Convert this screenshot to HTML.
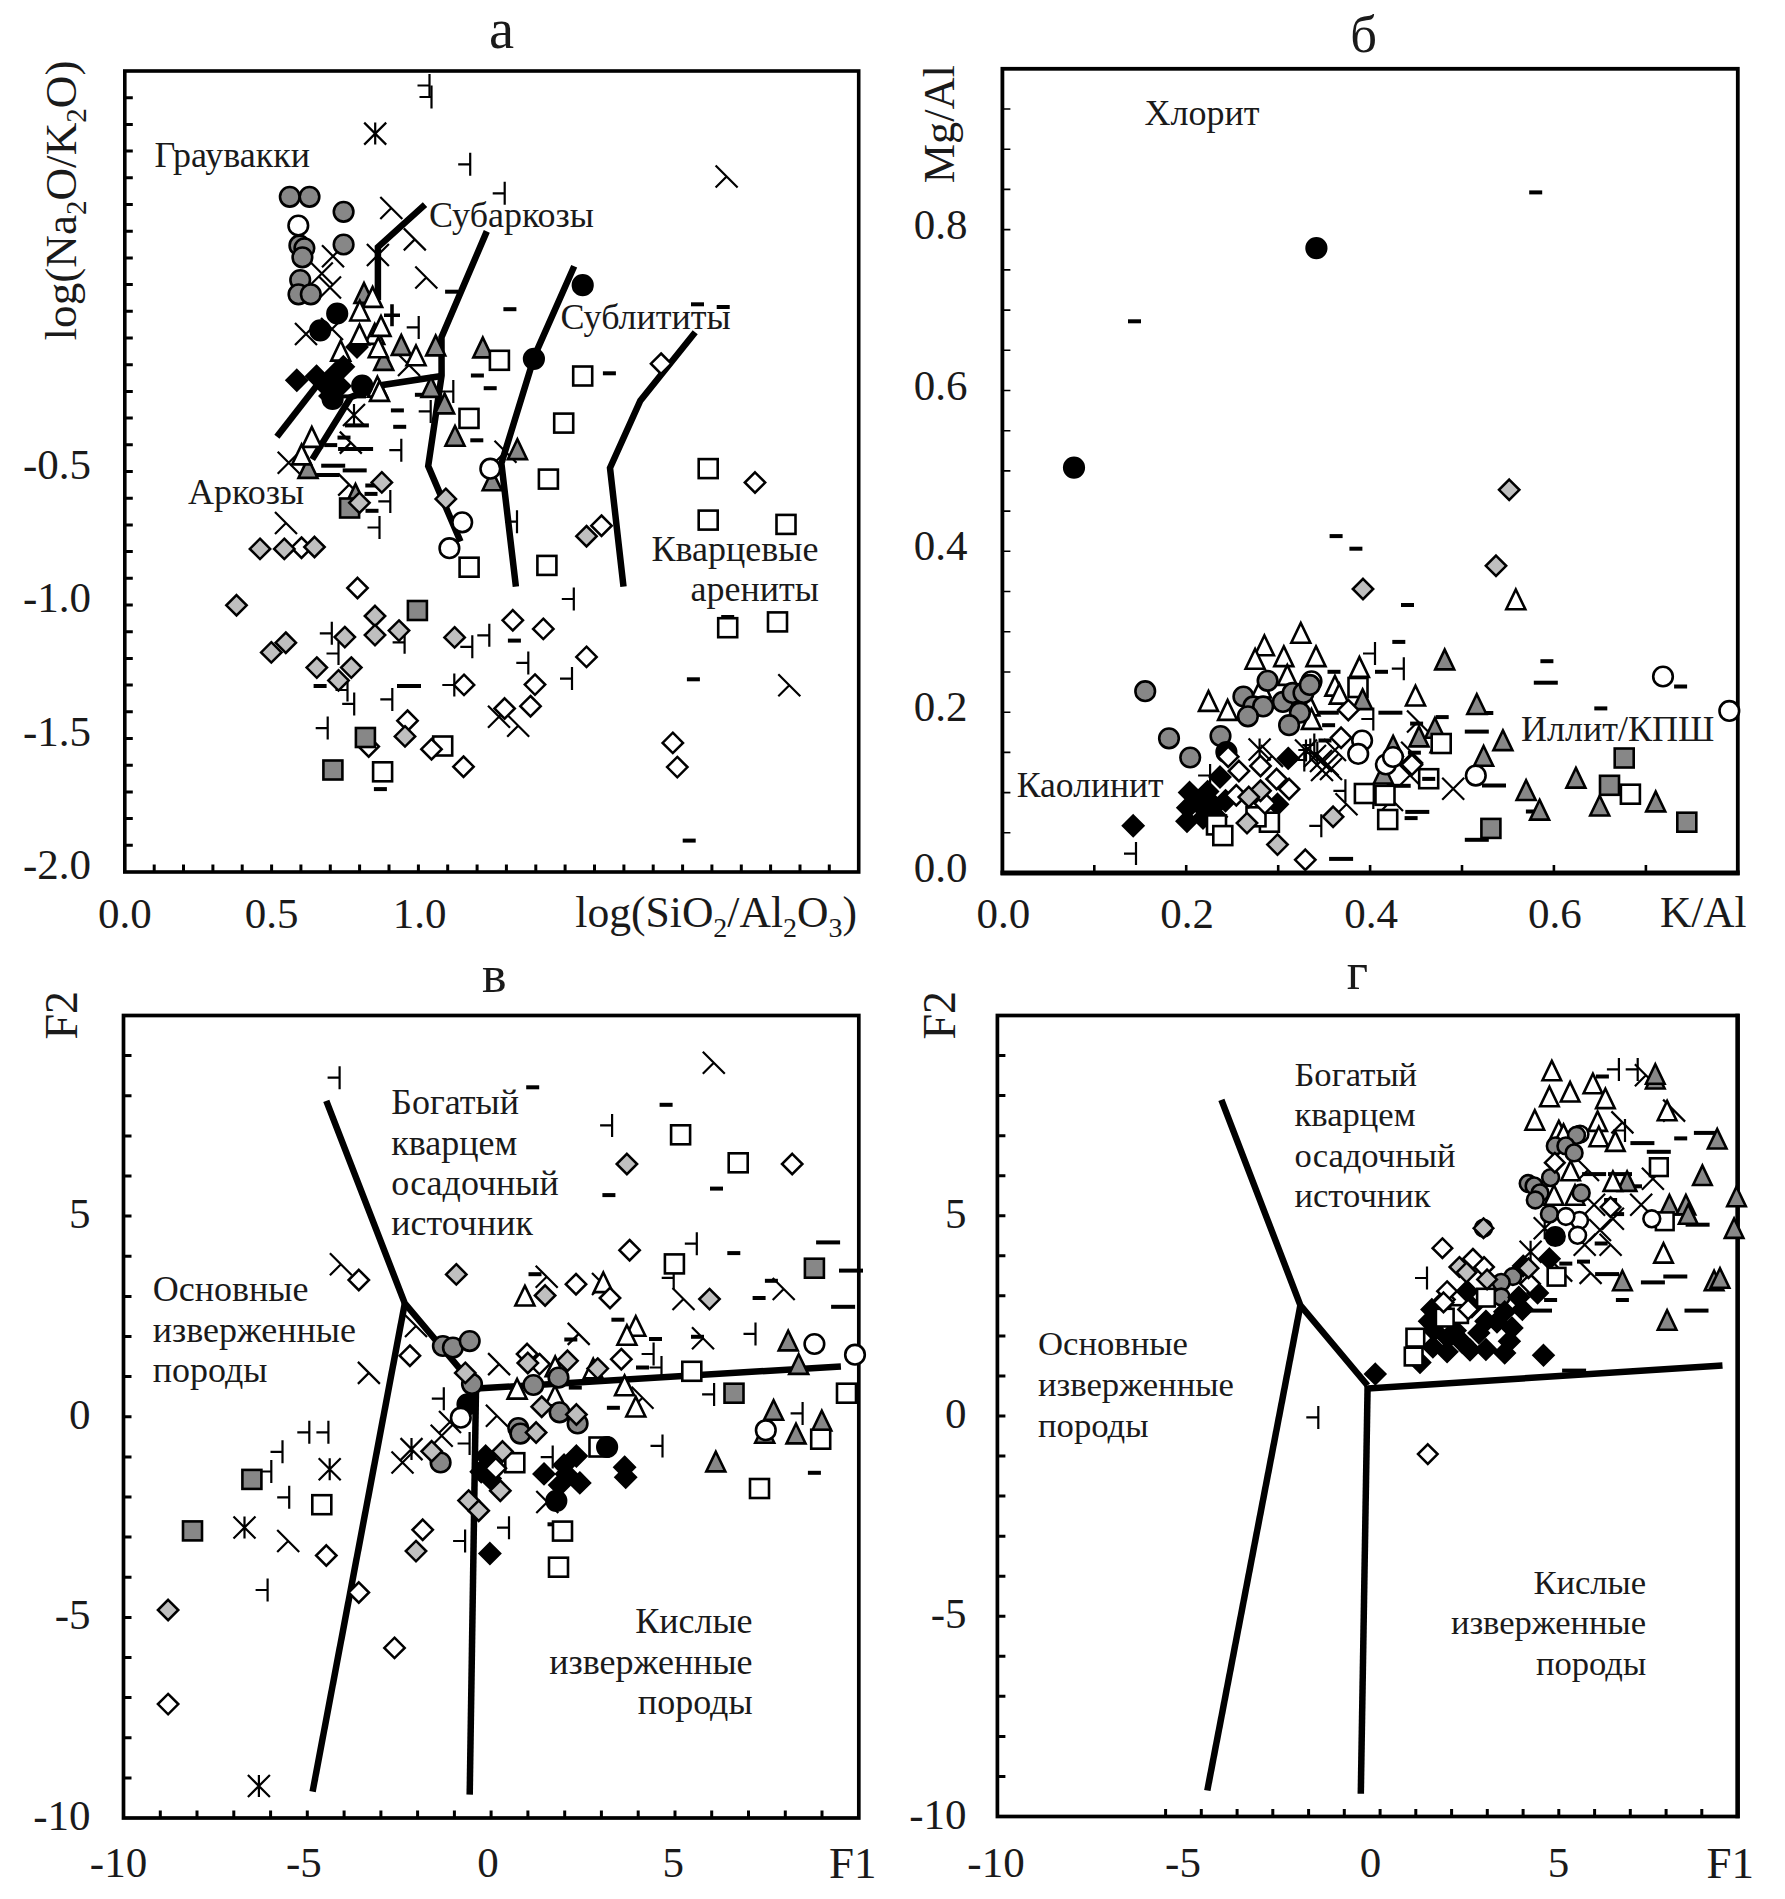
<!DOCTYPE html>
<html lang="ru"><head><meta charset="utf-8"><title>Диаграммы</title>
<style>html,body{margin:0;padding:0;background:#fff}svg{display:block}text{font-family:"Liberation Serif","Times New Roman",serif}</style>
</head><body>
<svg width="1785" height="1899" viewBox="0 0 1785 1899" font-family="'Liberation Serif', 'Times New Roman', serif" fill="#1a1a1a">
<rect width="1785" height="1899" fill="#fff"/>
<g id="pa">
<rect x="124.8" y="71" width="733.9" height="801" fill="none" stroke="#000" stroke-width="3.6"/>
<path d="M124.8 845.3h8M124.8 818.6h8M124.8 791.9h8M124.8 765.2h8M124.8 738.5h8M124.8 711.8h8M124.8 685.1h8M124.8 658.4h8M124.8 631.7h8M124.8 605h8M124.8 578.3h8M124.8 551.6h8M124.8 524.9h8M124.8 498.2h8M124.8 471.5h8M124.8 444.8h8M124.8 418.1h8M124.8 391.4h8M124.8 364.7h8M124.8 338h8M124.8 311.3h8M124.8 284.6h8M124.8 257.9h8M124.8 231.2h8M124.8 204.5h8M124.8 177.8h8M124.8 151.1h8M124.8 124.4h8M124.8 97.7h8M154.2 872v-7.6M183.5 872v-7.6M212.9 872v-7.6M242.2 872v-7.6M271.6 872v-7.6M300.9 872v-7.6M330.3 872v-7.6M359.6 872v-7.6M389 872v-7.6M418.4 872v-7.6M447.7 872v-7.6M477.1 872v-7.6M506.4 872v-7.6M535.8 872v-7.6M565.1 872v-7.6M594.5 872v-7.6M623.9 872v-7.6M653.2 872v-7.6M682.6 872v-7.6M711.9 872v-7.6M741.3 872v-7.6M770.6 872v-7.6M800 872v-7.6M829.3 872v-7.6" stroke="#000" stroke-width="3" fill="none"/>
<polyline points="425,204.6 377.9,247.2 377.9,300" fill="none" stroke="#000" stroke-width="6.5" stroke-linejoin="miter"/>
<polyline points="486.8,231.4 441.5,337.2 441.6,375.4 428.2,466.1 460.5,541.5" fill="none" stroke="#000" stroke-width="6.5" stroke-linejoin="miter"/>
<polyline points="441.6,376 379.4,385.5 350.8,397.2 312.2,459.4" fill="none" stroke="#000" stroke-width="6.5" stroke-linejoin="miter"/>
<polyline points="276.9,436.7 318,384" fill="none" stroke="#000" stroke-width="6.5" stroke-linejoin="miter"/>
<polyline points="574.2,266.2 534.5,356 501.4,463.4 515.9,586.7" fill="none" stroke="#000" stroke-width="6.5" stroke-linejoin="miter"/>
<polyline points="695.2,332.3 640.3,400.7 610,467.9 623.5,586.7" fill="none" stroke="#000" stroke-width="6.5" stroke-linejoin="miter"/>
<rect x="445.1" y="289.7" width="13" height="4" fill="#000"/>
<rect x="503.4" y="307.2" width="13" height="4" fill="#000"/>
<rect x="691" y="302.3" width="13" height="4" fill="#000"/>
<rect x="716.7" y="305" width="13" height="4" fill="#000"/>
<rect x="470.9" y="373.5" width="13" height="4" fill="#000"/>
<rect x="483.7" y="386.2" width="13" height="4" fill="#000"/>
<rect x="602.9" y="371.3" width="13" height="4" fill="#000"/>
<rect x="414.9" y="392.8" width="13" height="4" fill="#000"/>
<rect x="390.9" y="408.4" width="13" height="4" fill="#000"/>
<rect x="393.2" y="424.8" width="13" height="4" fill="#000"/>
<rect x="470.3" y="438.3" width="13" height="4" fill="#000"/>
<rect x="365.5" y="508.8" width="13" height="4" fill="#000"/>
<rect x="365.3" y="483.5" width="13" height="4" fill="#000"/>
<rect x="364.5" y="491.9" width="13" height="4" fill="#000"/>
<rect x="313.6" y="684" width="13" height="4" fill="#000"/>
<rect x="507.9" y="638.6" width="13" height="4" fill="#000"/>
<rect x="373.9" y="787.1" width="13" height="4" fill="#000"/>
<rect x="686.9" y="677.3" width="13" height="4" fill="#000"/>
<rect x="682.7" y="838.6" width="13" height="4" fill="#000"/>
<rect x="721.2" y="615" width="13" height="4" fill="#000"/>
<rect x="337.5" y="435.6" width="13" height="4" fill="#000"/>
<rect x="324.2" y="443.1" width="13" height="4" fill="#000"/>
<rect x="342" y="394.4" width="24" height="4" fill="#000"/>
<rect x="344.9" y="423.4" width="24" height="4" fill="#000"/>
<rect x="321.2" y="463.7" width="24" height="4" fill="#000"/>
<rect x="342.7" y="468.4" width="24" height="4" fill="#000"/>
<rect x="397" y="684" width="24" height="4" fill="#000"/>
<rect x="338.1" y="447" width="35" height="4" fill="#000"/>
<rect x="304.3" y="473" width="35" height="4" fill="#000"/>
<path d="M429.5 74V97M417.5 85.5H429.5" fill="none" stroke="#000" stroke-width="2.2"/>
<path d="M431.5 85.5V108.5M419.5 97H431.5" fill="none" stroke="#000" stroke-width="2.2"/>
<path d="M470.2 152.8V175.8M458.2 164.3H470.2" fill="none" stroke="#000" stroke-width="2.2"/>
<path d="M504.7 181.8V204.8M492.7 193.3H504.7" fill="none" stroke="#000" stroke-width="2.2"/>
<path d="M418.7 315.9V338.9M406.7 327.4H418.7" fill="none" stroke="#000" stroke-width="2.2"/>
<path d="M453.3 380V403M441.3 391.5H453.3" fill="none" stroke="#000" stroke-width="2.2"/>
<path d="M430.7 399.9V422.9M418.7 411.4H430.7" fill="none" stroke="#000" stroke-width="2.2"/>
<path d="M401.3 438.7V461.7M389.3 450.2H401.3" fill="none" stroke="#000" stroke-width="2.2"/>
<path d="M390.3 489.9V512.9M378.3 501.4H390.3" fill="none" stroke="#000" stroke-width="2.2"/>
<path d="M379.5 516V539M367.5 527.5H379.5" fill="none" stroke="#000" stroke-width="2.2"/>
<path d="M517 510.2V533.2M505 521.7H517" fill="none" stroke="#000" stroke-width="2.2"/>
<path d="M573.8 587.5V610.5M561.8 599H573.8" fill="none" stroke="#000" stroke-width="2.2"/>
<path d="M331.8 621.8V644.8M319.8 633.3H331.8" fill="none" stroke="#000" stroke-width="2.2"/>
<path d="M338.5 642V665M326.5 653.5H338.5" fill="none" stroke="#000" stroke-width="2.2"/>
<path d="M404.6 630.8V653.8M392.6 642.3H404.6" fill="none" stroke="#000" stroke-width="2.2"/>
<path d="M472.3 635.3V658.3M460.3 646.8H472.3" fill="none" stroke="#000" stroke-width="2.2"/>
<path d="M489.3 623.8V646.8M477.3 635.3H489.3" fill="none" stroke="#000" stroke-width="2.2"/>
<path d="M347.5 678.5V701.5M335.5 690H347.5" fill="none" stroke="#000" stroke-width="2.2"/>
<path d="M354.2 692.4V715.4M342.2 703.9H354.2" fill="none" stroke="#000" stroke-width="2.2"/>
<path d="M392.3 687.9V710.9M380.3 699.4H392.3" fill="none" stroke="#000" stroke-width="2.2"/>
<path d="M327.7 716.6V739.6M315.7 728.1H327.7" fill="none" stroke="#000" stroke-width="2.2"/>
<path d="M454.3 673.5V696.5M442.3 685H454.3" fill="none" stroke="#000" stroke-width="2.2"/>
<path d="M528.3 651.4V674.4M516.3 662.9H528.3" fill="none" stroke="#000" stroke-width="2.2"/>
<path d="M572 667.1V690.1M560 678.6H572" fill="none" stroke="#000" stroke-width="2.2"/>
<path d="M380.3 197L402.3 219M391.3 208L380.3 219" fill="none" stroke="#000" stroke-width="2.2"/>
<path d="M403.8 228.4L425.8 250.4M414.8 239.4L403.8 250.4" fill="none" stroke="#000" stroke-width="2.2"/>
<path d="M415.3 266.5L437.3 288.5M426.3 277.5L415.3 288.5" fill="none" stroke="#000" stroke-width="2.2"/>
<path d="M715.6 165.5L737.6 187.5M726.6 176.5L715.6 187.5" fill="none" stroke="#000" stroke-width="2.2"/>
<path d="M494.5 440.8L516.5 462.8M505.5 451.8L494.5 462.8" fill="none" stroke="#000" stroke-width="2.2"/>
<path d="M339.8 431.6L361.8 453.6M350.8 442.6L339.8 453.6" fill="none" stroke="#000" stroke-width="2.2"/>
<path d="M338.2 473.6L360.2 495.6M349.2 484.6L338.2 495.6" fill="none" stroke="#000" stroke-width="2.2"/>
<path d="M275 512L297 534M286 523L275 534" fill="none" stroke="#000" stroke-width="2.2"/>
<path d="M778.3 674.3L800.3 696.3M789.3 685.3L778.3 696.3" fill="none" stroke="#000" stroke-width="2.2"/>
<path d="M507.2 714.7L529.2 736.7M518.2 725.7L507.2 736.7" fill="none" stroke="#000" stroke-width="2.2"/>
<path d="M322 245.2L344 267.2M344 245.2L322 267.2" fill="none" stroke="#000" stroke-width="2.2"/>
<path d="M366.9 244L388.9 266M388.9 244L366.9 266" fill="none" stroke="#000" stroke-width="2.2"/>
<path d="M310.8 262.5L332.8 284.5M332.8 262.5L310.8 284.5" fill="none" stroke="#000" stroke-width="2.2"/>
<path d="M319 276.5L341 298.5M341 276.5L319 298.5" fill="none" stroke="#000" stroke-width="2.2"/>
<path d="M295 323L317 345M317 323L295 345" fill="none" stroke="#000" stroke-width="2.2"/>
<path d="M321 318L343 340M343 318L321 340" fill="none" stroke="#000" stroke-width="2.2"/>
<path d="M398 354L420 376M420 354L398 376" fill="none" stroke="#000" stroke-width="2.2"/>
<path d="M277.7 451.8L299.7 473.8M299.7 451.8L277.7 473.8" fill="none" stroke="#000" stroke-width="2.2"/>
<path d="M488 705.7L510 727.7M510 705.7L488 727.7" fill="none" stroke="#000" stroke-width="2.2"/>
<path d="M364.2 122.6L386.2 144.6M386.2 122.6L364.2 144.6M375.2 122.6V144.6" fill="none" stroke="#000" stroke-width="2.2"/>
<path d="M343 404L365 426M365 404L343 426M354 404V426" fill="none" stroke="#000" stroke-width="2.2"/>
<path d="M392 304.3V326.3M384 315.3H400" fill="none" stroke="#000" stroke-width="3.6"/>
<polygon points="364,283.1 373.5,302.9 354.5,302.9" fill="#878787" stroke="#000" stroke-width="2.6"/>
<polygon points="401.3,335.1 410.8,354.9 391.8,354.9" fill="#878787" stroke="#000" stroke-width="2.6"/>
<polygon points="435.7,335.6 445.2,355.4 426.2,355.4" fill="#878787" stroke="#000" stroke-width="2.6"/>
<polygon points="482.8,337.6 492.3,357.4 473.3,357.4" fill="#878787" stroke="#000" stroke-width="2.6"/>
<polygon points="383.7,350.1 393.2,369.9 374.2,369.9" fill="#878787" stroke="#000" stroke-width="2.6"/>
<polygon points="431,377.1 440.5,396.9 421.5,396.9" fill="#878787" stroke="#000" stroke-width="2.6"/>
<polygon points="444.6,393.6 454.1,413.4 435.1,413.4" fill="#878787" stroke="#000" stroke-width="2.6"/>
<polygon points="455,426 464.5,445.8 445.5,445.8" fill="#878787" stroke="#000" stroke-width="2.6"/>
<polygon points="517.4,439.3 526.9,459.1 507.9,459.1" fill="#878787" stroke="#000" stroke-width="2.6"/>
<polygon points="492.2,470.4 501.7,490.2 482.7,490.2" fill="#878787" stroke="#000" stroke-width="2.6"/>
<polygon points="308,458.1 317.5,477.9 298.5,477.9" fill="#878787" stroke="#000" stroke-width="2.6"/>
<polygon points="355.5,484.1 365,503.9 346,503.9" fill="#878787" stroke="#000" stroke-width="2.6"/>
<polygon points="357,336.8 367.2,347 357,357.2 346.8,347" fill="#000" stroke="#000" stroke-width="2.5"/>
<polygon points="372.6,287.1 382.1,306.9 363.1,306.9" fill="#fff" stroke="#000" stroke-width="2.6"/>
<polygon points="359.8,300.8 369.3,320.5 350.3,320.5" fill="#fff" stroke="#000" stroke-width="2.6"/>
<polygon points="374.7,324.1 384.2,343.9 365.2,343.9" fill="#fff" stroke="#000" stroke-width="2.6"/>
<polygon points="381,316.1 390.5,335.9 371.5,335.9" fill="#fff" stroke="#000" stroke-width="2.6"/>
<polygon points="359.5,324.6 369,344.4 350,344.4" fill="#fff" stroke="#000" stroke-width="2.6"/>
<polygon points="378.3,337.4 387.8,357.2 368.8,357.2" fill="#fff" stroke="#000" stroke-width="2.6"/>
<polygon points="340.7,340.8 350.2,360.6 331.2,360.6" fill="#fff" stroke="#000" stroke-width="2.6"/>
<polygon points="416,345.5 425.5,365.2 406.5,365.2" fill="#fff" stroke="#000" stroke-width="2.6"/>
<polygon points="377.4,376.8 386.9,396.6 367.9,396.6" fill="#fff" stroke="#000" stroke-width="2.6"/>
<polygon points="379.5,381.1 389,400.9 370,400.9" fill="#fff" stroke="#000" stroke-width="2.6"/>
<polygon points="311.8,427.1 321.3,446.9 302.3,446.9" fill="#fff" stroke="#000" stroke-width="2.6"/>
<polygon points="301.6,444.6 311.1,464.4 292.1,464.4" fill="#fff" stroke="#000" stroke-width="2.6"/>
<circle cx="289.8" cy="196.8" r="9.8" fill="#878787" stroke="#000" stroke-width="2.6"/>
<circle cx="309.5" cy="196.8" r="9.8" fill="#878787" stroke="#000" stroke-width="2.6"/>
<circle cx="343.6" cy="211.8" r="9.8" fill="#878787" stroke="#000" stroke-width="2.6"/>
<circle cx="343.6" cy="244.5" r="9.8" fill="#878787" stroke="#000" stroke-width="2.6"/>
<circle cx="299.4" cy="245.4" r="9.8" fill="#878787" stroke="#000" stroke-width="2.6"/>
<circle cx="304.4" cy="248.3" r="9.8" fill="#878787" stroke="#000" stroke-width="2.6"/>
<circle cx="302.4" cy="257.3" r="9.8" fill="#878787" stroke="#000" stroke-width="2.6"/>
<circle cx="300.2" cy="280" r="9.8" fill="#878787" stroke="#000" stroke-width="2.6"/>
<circle cx="298.5" cy="294.3" r="9.8" fill="#878787" stroke="#000" stroke-width="2.6"/>
<circle cx="310.8" cy="294.3" r="9.8" fill="#878787" stroke="#000" stroke-width="2.6"/>
<circle cx="337.2" cy="313.5" r="9.8" fill="#000" stroke="#000" stroke-width="2.6"/>
<circle cx="320.2" cy="330.3" r="9.8" fill="#000" stroke="#000" stroke-width="2.6"/>
<circle cx="582.7" cy="285.2" r="9.8" fill="#000" stroke="#000" stroke-width="2.6"/>
<circle cx="533.9" cy="358.8" r="9.8" fill="#000" stroke="#000" stroke-width="2.6"/>
<circle cx="332.6" cy="399" r="9.8" fill="#000" stroke="#000" stroke-width="2.6"/>
<circle cx="362.2" cy="385.6" r="9.8" fill="#000" stroke="#000" stroke-width="2.6"/>
<polygon points="296.8,370.1 307,380.3 296.8,390.5 286.6,380.3" fill="#000" stroke="#000" stroke-width="2.5"/>
<polygon points="316.5,366 326.7,376.2 316.5,386.4 306.3,376.2" fill="#000" stroke="#000" stroke-width="2.5"/>
<polygon points="335.3,363.3 345.5,373.5 335.3,383.7 325.1,373.5" fill="#000" stroke="#000" stroke-width="2.5"/>
<polygon points="343.4,356.6 353.6,366.8 343.4,377 333.2,366.8" fill="#000" stroke="#000" stroke-width="2.5"/>
<polygon points="325,374.8 335.2,385 325,395.2 314.8,385" fill="#000" stroke="#000" stroke-width="2.5"/>
<polygon points="340,375.8 350.2,386 340,396.2 329.8,386" fill="#000" stroke="#000" stroke-width="2.5"/>
<polygon points="330,385.8 340.2,396 330,406.2 319.8,396" fill="#000" stroke="#000" stroke-width="2.5"/>
<rect x="459.5" y="408.9" width="19" height="19" fill="#fff" stroke="#000" stroke-width="2.6"/>
<rect x="489.9" y="350.8" width="19" height="19" fill="#fff" stroke="#000" stroke-width="2.6"/>
<rect x="573.2" y="366.5" width="19" height="19" fill="#fff" stroke="#000" stroke-width="2.6"/>
<rect x="554.2" y="413.6" width="19" height="19" fill="#fff" stroke="#000" stroke-width="2.6"/>
<rect x="538.9" y="469.6" width="19" height="19" fill="#fff" stroke="#000" stroke-width="2.6"/>
<rect x="459.6" y="557.7" width="19" height="19" fill="#fff" stroke="#000" stroke-width="2.6"/>
<rect x="537.4" y="555.9" width="19" height="19" fill="#fff" stroke="#000" stroke-width="2.6"/>
<rect x="698.7" y="459.1" width="19" height="19" fill="#fff" stroke="#000" stroke-width="2.6"/>
<rect x="698.7" y="510.6" width="19" height="19" fill="#fff" stroke="#000" stroke-width="2.6"/>
<rect x="776.5" y="514.9" width="19" height="19" fill="#fff" stroke="#000" stroke-width="2.6"/>
<rect x="718.2" y="618.2" width="19" height="19" fill="#fff" stroke="#000" stroke-width="2.6"/>
<rect x="768" y="612.4" width="19" height="19" fill="#fff" stroke="#000" stroke-width="2.6"/>
<rect x="433.2" y="736.5" width="19" height="19" fill="#fff" stroke="#000" stroke-width="2.6"/>
<rect x="373.1" y="762.3" width="19" height="19" fill="#fff" stroke="#000" stroke-width="2.6"/>
<polygon points="661.1,353.5 671.3,363.7 661.1,373.9 650.9,363.7" fill="#fff" stroke="#000" stroke-width="2.5"/>
<polygon points="301.5,537.5 311.7,547.7 301.5,557.9 291.3,547.7" fill="#fff" stroke="#000" stroke-width="2.5"/>
<polygon points="357.5,577.8 367.7,588 357.5,598.2 347.3,588" fill="#fff" stroke="#000" stroke-width="2.5"/>
<polygon points="512.8,610.1 523,620.3 512.8,630.5 502.6,620.3" fill="#fff" stroke="#000" stroke-width="2.5"/>
<polygon points="543.3,618.7 553.5,628.9 543.3,639.1 533.1,628.9" fill="#fff" stroke="#000" stroke-width="2.5"/>
<polygon points="586.5,646.7 596.7,656.9 586.5,667.1 576.3,656.9" fill="#fff" stroke="#000" stroke-width="2.5"/>
<polygon points="535,674.4 545.2,684.6 535,694.8 524.8,684.6" fill="#fff" stroke="#000" stroke-width="2.5"/>
<polygon points="464,674.7 474.2,684.9 464,695.1 453.8,684.9" fill="#fff" stroke="#000" stroke-width="2.5"/>
<polygon points="530.5,696 540.7,706.2 530.5,716.4 520.3,706.2" fill="#fff" stroke="#000" stroke-width="2.5"/>
<polygon points="504.6,698.3 514.8,708.5 504.6,718.7 494.4,708.5" fill="#fff" stroke="#000" stroke-width="2.5"/>
<polygon points="601.5,515.5 611.7,525.7 601.5,535.9 591.3,525.7" fill="#fff" stroke="#000" stroke-width="2.5"/>
<polygon points="755,472.3 765.2,482.5 755,492.7 744.8,482.5" fill="#fff" stroke="#000" stroke-width="2.5"/>
<polygon points="407.5,710.5 417.7,720.7 407.5,730.9 397.3,720.7" fill="#fff" stroke="#000" stroke-width="2.5"/>
<polygon points="368.7,736.3 378.9,746.5 368.7,756.7 358.5,746.5" fill="#fff" stroke="#000" stroke-width="2.5"/>
<polygon points="431.5,739 441.7,749.2 431.5,759.4 421.3,749.2" fill="#fff" stroke="#000" stroke-width="2.5"/>
<polygon points="463.5,756.5 473.7,766.7 463.5,776.9 453.3,766.7" fill="#fff" stroke="#000" stroke-width="2.5"/>
<polygon points="672.8,732.7 683,742.9 672.8,753.1 662.6,742.9" fill="#fff" stroke="#000" stroke-width="2.5"/>
<polygon points="677.3,756.9 687.5,767.1 677.3,777.3 667.1,767.1" fill="#fff" stroke="#000" stroke-width="2.5"/>
<rect x="340.1" y="498.5" width="19" height="19" fill="#878787" stroke="#000" stroke-width="2.6"/>
<rect x="407.9" y="601" width="19" height="19" fill="#878787" stroke="#000" stroke-width="2.6"/>
<rect x="355.9" y="728" width="19" height="19" fill="#878787" stroke="#000" stroke-width="2.6"/>
<rect x="323.4" y="760.5" width="19" height="19" fill="#878787" stroke="#000" stroke-width="2.6"/>
<polygon points="445.8,488.7 456,498.9 445.8,509.1 435.6,498.9" fill="#bfbfbf" stroke="#000" stroke-width="2.5"/>
<polygon points="381.8,472.2 392,482.4 381.8,492.6 371.6,482.4" fill="#bfbfbf" stroke="#000" stroke-width="2.5"/>
<polygon points="359.4,492.6 369.6,502.8 359.4,513 349.2,502.8" fill="#bfbfbf" stroke="#000" stroke-width="2.5"/>
<polygon points="260,538.7 270.2,548.9 260,559.1 249.8,548.9" fill="#bfbfbf" stroke="#000" stroke-width="2.5"/>
<polygon points="284.3,538.7 294.5,548.9 284.3,559.1 274.1,548.9" fill="#bfbfbf" stroke="#000" stroke-width="2.5"/>
<polygon points="314.5,536.8 324.7,547 314.5,557.2 304.3,547" fill="#bfbfbf" stroke="#000" stroke-width="2.5"/>
<polygon points="236.5,595.1 246.7,605.3 236.5,615.5 226.3,605.3" fill="#bfbfbf" stroke="#000" stroke-width="2.5"/>
<polygon points="375,605.8 385.2,616 375,626.2 364.8,616" fill="#bfbfbf" stroke="#000" stroke-width="2.5"/>
<polygon points="344.8,626.9 355,637.1 344.8,647.3 334.6,637.1" fill="#bfbfbf" stroke="#000" stroke-width="2.5"/>
<polygon points="375,624.9 385.2,635.1 375,645.3 364.8,635.1" fill="#bfbfbf" stroke="#000" stroke-width="2.5"/>
<polygon points="399,620.4 409.2,630.6 399,640.8 388.8,630.6" fill="#bfbfbf" stroke="#000" stroke-width="2.5"/>
<polygon points="454.6,627.2 464.8,637.4 454.6,647.6 444.4,637.4" fill="#bfbfbf" stroke="#000" stroke-width="2.5"/>
<polygon points="285.8,632.5 296,642.7 285.8,652.9 275.6,642.7" fill="#bfbfbf" stroke="#000" stroke-width="2.5"/>
<polygon points="271.3,642.2 281.5,652.4 271.3,662.6 261.1,652.4" fill="#bfbfbf" stroke="#000" stroke-width="2.5"/>
<polygon points="316.8,657.4 327,667.6 316.8,677.8 306.6,667.6" fill="#bfbfbf" stroke="#000" stroke-width="2.5"/>
<polygon points="351.3,657.4 361.5,667.6 351.3,677.8 341.1,667.6" fill="#bfbfbf" stroke="#000" stroke-width="2.5"/>
<polygon points="338.5,670.2 348.7,680.4 338.5,690.6 328.3,680.4" fill="#bfbfbf" stroke="#000" stroke-width="2.5"/>
<polygon points="405,726.2 415.2,736.4 405,746.6 394.8,736.4" fill="#bfbfbf" stroke="#000" stroke-width="2.5"/>
<polygon points="586.5,526 596.7,536.2 586.5,546.4 576.3,536.2" fill="#bfbfbf" stroke="#000" stroke-width="2.5"/>
<circle cx="298.3" cy="225.5" r="9.8" fill="#fff" stroke="#000" stroke-width="2.6"/>
<circle cx="490.3" cy="468.7" r="9.8" fill="#fff" stroke="#000" stroke-width="2.6"/>
<circle cx="462.2" cy="522.3" r="9.8" fill="#fff" stroke="#000" stroke-width="2.6"/>
<circle cx="449.4" cy="548.2" r="9.8" fill="#fff" stroke="#000" stroke-width="2.6"/>
<text x="501.5" y="47.8" font-size="56.5" text-anchor="middle">а</text>
<text x="91" y="478.5" font-size="43" text-anchor="end">-0.5</text>
<text x="91" y="612" font-size="43" text-anchor="end">-1.0</text>
<text x="91" y="745.5" font-size="43" text-anchor="end">-1.5</text>
<text x="91" y="879" font-size="43" text-anchor="end">-2.0</text>
<text x="124.8" y="927.5" font-size="43" text-anchor="middle">0.0</text>
<text x="271.5" y="927.5" font-size="43" text-anchor="middle">0.5</text>
<text x="419.5" y="927.5" font-size="43" text-anchor="middle">1.0</text>
<text x="575.3" y="926.6" font-size="43.6" text-anchor="start">log(SiO<tspan font-size="28" dy="10">2</tspan><tspan dy="-10">/Al</tspan><tspan font-size="28" dy="10">2</tspan><tspan dy="-10">O</tspan><tspan font-size="28" dy="10">3</tspan><tspan dy="-10">)</tspan></text>
<text transform="translate(76.3 340.5) rotate(-90)" font-size="45.2" text-anchor="start">log(Na<tspan font-size="29" dy="10">2</tspan><tspan dy="-10">O/K</tspan><tspan font-size="29" dy="10">2</tspan><tspan dy="-10">O)</tspan></text>
<text x="154.5" y="166.5" font-size="36" text-anchor="start">Граувакки</text>
<text x="429" y="227" font-size="36" text-anchor="start">Субаркозы</text>
<text x="560.5" y="329" font-size="36" text-anchor="start">Сублититы</text>
<text x="188" y="504" font-size="36" text-anchor="start">Аркозы</text>
<text x="651.5" y="561" font-size="36" text-anchor="start">Кварцевые</text>
<text x="690.5" y="601.3" font-size="36" text-anchor="start">арениты</text>
</g>
<g id="pb">
<rect x="1002.4" y="68.8" width="735.4" height="804.2" fill="none" stroke="#000" stroke-width="3.8"/>
<path d="M1000.5 873H1739.7" stroke="#000" stroke-width="4.8" fill="none"/>
<path d="M1002.4 832.8h8M1002.4 792.6h8M1002.4 752.4h8M1002.4 712.2h8M1002.4 672h8M1002.4 631.7h8M1002.4 591.5h8M1002.4 551.3h8M1002.4 511.1h8M1002.4 470.9h8M1002.4 430.7h8M1002.4 390.5h8M1002.4 350.3h8M1002.4 310.1h8M1002.4 269.9h8M1002.4 229.6h8M1002.4 189.4h8M1002.4 149.2h8M1002.4 109h8" stroke="#000" stroke-width="1.6" fill="none"/>
<path d="M1094.3 873v-8M1186.2 873v-8M1278.2 873v-8M1370.1 873v-8M1462 873v-8M1553.9 873v-8M1645.9 873v-8" stroke="#000" stroke-width="2.6" fill="none"/>
<rect x="1529.2" y="190.4" width="13" height="4" fill="#000"/>
<rect x="1128" y="319.3" width="13" height="4" fill="#000"/>
<rect x="1329.6" y="534.1" width="13" height="4" fill="#000"/>
<rect x="1349.4" y="546.7" width="13" height="4" fill="#000"/>
<rect x="1401" y="603" width="13" height="4" fill="#000"/>
<rect x="1392.3" y="639.9" width="13" height="4" fill="#000"/>
<rect x="1375" y="669.8" width="13" height="4" fill="#000"/>
<rect x="1327.5" y="669.8" width="13" height="4" fill="#000"/>
<rect x="1322.1" y="723.2" width="13" height="4" fill="#000"/>
<rect x="1318.5" y="738.5" width="13" height="4" fill="#000"/>
<rect x="1540.4" y="659.2" width="13" height="4" fill="#000"/>
<rect x="1674.1" y="684.5" width="13" height="4" fill="#000"/>
<rect x="1594.3" y="706.4" width="13" height="4" fill="#000"/>
<rect x="1480.3" y="711" width="13" height="4" fill="#000"/>
<rect x="1435.7" y="715.1" width="13" height="4" fill="#000"/>
<rect x="1404.6" y="816.1" width="13" height="4" fill="#000"/>
<rect x="1407.9" y="750.7" width="13" height="4" fill="#000"/>
<rect x="1410.1" y="721.6" width="13" height="4" fill="#000"/>
<rect x="1525.9" y="809.5" width="13" height="4" fill="#000"/>
<rect x="1386.7" y="783.8" width="24" height="4" fill="#000"/>
<rect x="1314.8" y="710.7" width="24" height="4" fill="#000"/>
<rect x="1378.4" y="710.7" width="24" height="4" fill="#000"/>
<rect x="1533.8" y="680.7" width="24" height="4" fill="#000"/>
<rect x="1464.8" y="729.6" width="24" height="4" fill="#000"/>
<rect x="1482" y="783.5" width="24" height="4" fill="#000"/>
<rect x="1464.8" y="837.8" width="24" height="4" fill="#000"/>
<rect x="1405.3" y="809.9" width="24" height="4" fill="#000"/>
<rect x="1329.1" y="856.9" width="24" height="4" fill="#000"/>
<path d="M1375 642V665M1363 653.5H1375" fill="none" stroke="#000" stroke-width="2.2"/>
<path d="M1403.8 657.2V680.2M1391.8 668.7H1403.8" fill="none" stroke="#000" stroke-width="2.2"/>
<path d="M1373.3 707.5V730.5M1361.3 719H1373.3" fill="none" stroke="#000" stroke-width="2.2"/>
<path d="M1210.1 764V787M1198.1 775.5H1210.1" fill="none" stroke="#000" stroke-width="2.2"/>
<path d="M1136 842.1V865.1M1124 853.6H1136" fill="none" stroke="#000" stroke-width="2.2"/>
<path d="M1321.3 814.3V837.3M1309.3 825.8H1321.3" fill="none" stroke="#000" stroke-width="2.2"/>
<path d="M1345.4 779.3V802.3M1333.4 790.8H1345.4" fill="none" stroke="#000" stroke-width="2.2"/>
<path d="M1304.3 748.5V771.5M1292.3 760H1304.3" fill="none" stroke="#000" stroke-width="2.2"/>
<path d="M1314.3 733.5V756.5M1302.3 745H1314.3" fill="none" stroke="#000" stroke-width="2.2"/>
<path d="M1373.3 786.1V809.1M1361.3 797.6H1373.3" fill="none" stroke="#000" stroke-width="2.2"/>
<path d="M1310.3 738.5V761.5M1298.3 750H1310.3" fill="none" stroke="#000" stroke-width="2.2"/>
<path d="M1317.3 741.5V764.5M1305.3 753H1317.3" fill="none" stroke="#000" stroke-width="2.2"/>
<path d="M1335.5 793.3L1357.5 815.3M1346.5 804.3L1335.5 815.3" fill="none" stroke="#000" stroke-width="2.2"/>
<path d="M1407 710.5L1429 732.5M1418 721.5L1407 732.5" fill="none" stroke="#000" stroke-width="2.2"/>
<path d="M1261 745L1283 767M1272 756L1261 767" fill="none" stroke="#000" stroke-width="2.2"/>
<path d="M1311 759L1333 781M1322 770L1311 781" fill="none" stroke="#000" stroke-width="2.2"/>
<path d="M1401.1 741.7L1423.1 763.7M1412.1 752.7L1401.1 763.7" fill="none" stroke="#000" stroke-width="2.2"/>
<path d="M1399 764.2L1421 786.2M1410 775.2L1399 786.2" fill="none" stroke="#000" stroke-width="2.2"/>
<path d="M1381 789L1403 811M1392 800L1381 811" fill="none" stroke="#000" stroke-width="2.2"/>
<path d="M1304 745L1326 767M1326 745L1304 767" fill="none" stroke="#000" stroke-width="2.2"/>
<path d="M1316.7 753.8L1338.7 775.8M1338.7 753.8L1316.7 775.8" fill="none" stroke="#000" stroke-width="2.2"/>
<path d="M1442.2 777.8L1464.2 799.8M1464.2 777.8L1442.2 799.8" fill="none" stroke="#000" stroke-width="2.2"/>
<path d="M1324 739L1346 761M1346 739L1324 761" fill="none" stroke="#000" stroke-width="2.2"/>
<path d="M1310 750L1332 772M1332 750L1310 772" fill="none" stroke="#000" stroke-width="2.2"/>
<path d="M1320 758L1342 780M1342 758L1320 780" fill="none" stroke="#000" stroke-width="2.2"/>
<path d="M1248.6 738.5L1270.6 760.5M1270.6 738.5L1248.6 760.5M1259.6 738.5V760.5" fill="none" stroke="#000" stroke-width="2.2"/>
<path d="M1295 739.5L1317 761.5M1317 739.5L1295 761.5M1306 739.5V761.5" fill="none" stroke="#000" stroke-width="2.2"/>
<rect x="1348.5" y="678" width="19" height="19" fill="#fff" stroke="#000" stroke-width="2.6"/>
<polygon points="1362.6,689.4 1372.1,709.1 1353.1,709.1" fill="#878787" stroke="#000" stroke-width="2.6"/>
<polygon points="1393.1,735.9 1402.6,755.6 1383.6,755.6" fill="#878787" stroke="#000" stroke-width="2.6"/>
<polygon points="1383.3,763.8 1392.8,783.5 1373.8,783.5" fill="#878787" stroke="#000" stroke-width="2.6"/>
<polygon points="1419,726.6 1428.5,746.4 1409.5,746.4" fill="#878787" stroke="#000" stroke-width="2.6"/>
<polygon points="1444.7,649.6 1454.2,669.4 1435.2,669.4" fill="#878787" stroke="#000" stroke-width="2.6"/>
<polygon points="1476.8,694.2 1486.3,714 1467.3,714" fill="#878787" stroke="#000" stroke-width="2.6"/>
<polygon points="1502.9,730.4 1512.4,750.1 1493.4,750.1" fill="#878787" stroke="#000" stroke-width="2.6"/>
<polygon points="1483.6,746 1493.1,765.8 1474.1,765.8" fill="#878787" stroke="#000" stroke-width="2.6"/>
<polygon points="1440.1,732.5 1449.6,752.2 1430.6,752.2" fill="#878787" stroke="#000" stroke-width="2.6"/>
<polygon points="1434.9,718 1444.4,737.8 1425.4,737.8" fill="#878787" stroke="#000" stroke-width="2.6"/>
<polygon points="1526.1,780.2 1535.6,800 1516.6,800" fill="#878787" stroke="#000" stroke-width="2.6"/>
<polygon points="1539.6,799.9 1549.1,819.6 1530.1,819.6" fill="#878787" stroke="#000" stroke-width="2.6"/>
<polygon points="1575.9,767.9 1585.4,787.6 1566.4,787.6" fill="#878787" stroke="#000" stroke-width="2.6"/>
<polygon points="1599.7,795.8 1609.2,815.5 1590.2,815.5" fill="#878787" stroke="#000" stroke-width="2.6"/>
<polygon points="1655.7,791.6 1665.2,811.4 1646.2,811.4" fill="#878787" stroke="#000" stroke-width="2.6"/>
<polygon points="1300.8,623 1310.3,642.8 1291.3,642.8" fill="#fff" stroke="#000" stroke-width="2.6"/>
<polygon points="1264.4,635.5 1273.9,655.2 1254.9,655.2" fill="#fff" stroke="#000" stroke-width="2.6"/>
<polygon points="1255.1,649 1264.6,668.8 1245.6,668.8" fill="#fff" stroke="#000" stroke-width="2.6"/>
<polygon points="1283.8,646.4 1293.3,666.1 1274.3,666.1" fill="#fff" stroke="#000" stroke-width="2.6"/>
<polygon points="1316,646.4 1325.5,666.1 1306.5,666.1" fill="#fff" stroke="#000" stroke-width="2.6"/>
<polygon points="1287.3,665.1 1296.8,684.9 1277.8,684.9" fill="#fff" stroke="#000" stroke-width="2.6"/>
<polygon points="1359.4,657.1 1368.9,676.9 1349.9,676.9" fill="#fff" stroke="#000" stroke-width="2.6"/>
<polygon points="1334.9,675.9 1344.4,695.6 1325.4,695.6" fill="#fff" stroke="#000" stroke-width="2.6"/>
<polygon points="1339.3,683.9 1348.8,703.6 1329.8,703.6" fill="#fff" stroke="#000" stroke-width="2.6"/>
<polygon points="1208.5,691.1 1218,710.9 1199,710.9" fill="#fff" stroke="#000" stroke-width="2.6"/>
<polygon points="1227.6,700.1 1237.1,719.9 1218.1,719.9" fill="#fff" stroke="#000" stroke-width="2.6"/>
<polygon points="1415.5,685.8 1425,705.5 1406,705.5" fill="#fff" stroke="#000" stroke-width="2.6"/>
<polygon points="1261.4,677.8 1270.9,697.5 1251.9,697.5" fill="#fff" stroke="#000" stroke-width="2.6"/>
<polygon points="1309.8,695.6 1319.3,715.4 1300.3,715.4" fill="#fff" stroke="#000" stroke-width="2.6"/>
<polygon points="1311.5,709.1 1321,728.9 1302,728.9" fill="#fff" stroke="#000" stroke-width="2.6"/>
<polygon points="1515.8,589.5 1525.3,609.2 1506.3,609.2" fill="#fff" stroke="#000" stroke-width="2.6"/>
<circle cx="1311.5" cy="681.3" r="9.8" fill="#fff" stroke="#000" stroke-width="2.6"/>
<circle cx="1145.2" cy="691.2" r="9.8" fill="#878787" stroke="#000" stroke-width="2.6"/>
<circle cx="1169" cy="738.3" r="9.8" fill="#878787" stroke="#000" stroke-width="2.6"/>
<circle cx="1190.2" cy="757.5" r="9.8" fill="#878787" stroke="#000" stroke-width="2.6"/>
<circle cx="1220.5" cy="736" r="9.8" fill="#878787" stroke="#000" stroke-width="2.6"/>
<circle cx="1267.6" cy="680.8" r="9.8" fill="#878787" stroke="#000" stroke-width="2.6"/>
<circle cx="1243.4" cy="696.5" r="9.8" fill="#878787" stroke="#000" stroke-width="2.6"/>
<circle cx="1253.3" cy="706.4" r="9.8" fill="#878787" stroke="#000" stroke-width="2.6"/>
<circle cx="1263.1" cy="706.4" r="9.8" fill="#878787" stroke="#000" stroke-width="2.6"/>
<circle cx="1247.9" cy="716.3" r="9.8" fill="#878787" stroke="#000" stroke-width="2.6"/>
<circle cx="1282.9" cy="701.9" r="9.8" fill="#878787" stroke="#000" stroke-width="2.6"/>
<circle cx="1292.7" cy="692.9" r="9.8" fill="#878787" stroke="#000" stroke-width="2.6"/>
<circle cx="1303.5" cy="692.9" r="9.8" fill="#878787" stroke="#000" stroke-width="2.6"/>
<circle cx="1309.8" cy="684.9" r="9.8" fill="#878787" stroke="#000" stroke-width="2.6"/>
<circle cx="1299.9" cy="712.7" r="9.8" fill="#878787" stroke="#000" stroke-width="2.6"/>
<circle cx="1289.1" cy="725.2" r="9.8" fill="#878787" stroke="#000" stroke-width="2.6"/>
<circle cx="1316.4" cy="248.2" r="9.8" fill="#000" stroke="#000" stroke-width="2.6"/>
<circle cx="1074" cy="467.6" r="9.8" fill="#000" stroke="#000" stroke-width="2.6"/>
<circle cx="1226.4" cy="752.1" r="9.8" fill="#000" stroke="#000" stroke-width="2.6"/>
<polygon points="1288.2,748.2 1298.4,758.4 1288.2,768.6 1278,758.4" fill="#000" stroke="#000" stroke-width="2.5"/>
<polygon points="1220,766.8 1230.2,777 1220,787.2 1209.8,777" fill="#000" stroke="#000" stroke-width="2.5"/>
<polygon points="1189.6,782.3 1199.8,792.5 1189.6,802.7 1179.4,792.5" fill="#000" stroke="#000" stroke-width="2.5"/>
<polygon points="1207.6,781.4 1217.8,791.6 1207.6,801.8 1197.4,791.6" fill="#000" stroke="#000" stroke-width="2.5"/>
<polygon points="1187.8,797.6 1198,807.8 1187.8,818 1177.6,807.8" fill="#000" stroke="#000" stroke-width="2.5"/>
<polygon points="1187,811.1 1197.2,821.3 1187,831.5 1176.8,821.3" fill="#000" stroke="#000" stroke-width="2.5"/>
<polygon points="1214.7,795.8 1224.9,806 1214.7,816.2 1204.5,806" fill="#000" stroke="#000" stroke-width="2.5"/>
<polygon points="1225.5,790.5 1235.7,800.7 1225.5,810.9 1215.3,800.7" fill="#000" stroke="#000" stroke-width="2.5"/>
<polygon points="1216.5,806.6 1226.7,816.8 1216.5,827 1206.3,816.8" fill="#000" stroke="#000" stroke-width="2.5"/>
<polygon points="1277.5,794.1 1287.7,804.3 1277.5,814.5 1267.3,804.3" fill="#000" stroke="#000" stroke-width="2.5"/>
<polygon points="1133.2,815.6 1143.4,825.8 1133.2,836 1123,825.8" fill="#000" stroke="#000" stroke-width="2.5"/>
<polygon points="1200,794.8 1210.2,805 1200,815.2 1189.8,805" fill="#000" stroke="#000" stroke-width="2.5"/>
<polygon points="1207,795.8 1217.2,806 1207,816.2 1196.8,806" fill="#000" stroke="#000" stroke-width="2.5"/>
<polygon points="1203,807.8 1213.2,818 1203,828.2 1192.8,818" fill="#000" stroke="#000" stroke-width="2.5"/>
<rect x="1207" y="815.4" width="19" height="19" fill="#fff" stroke="#000" stroke-width="2.6"/>
<rect x="1213.3" y="826.1" width="19" height="19" fill="#fff" stroke="#000" stroke-width="2.6"/>
<rect x="1259.9" y="812.7" width="19" height="19" fill="#fff" stroke="#000" stroke-width="2.6"/>
<rect x="1246.5" y="807.3" width="19" height="19" fill="#fff" stroke="#000" stroke-width="2.6"/>
<rect x="1354.9" y="784" width="19" height="19" fill="#fff" stroke="#000" stroke-width="2.6"/>
<rect x="1375.5" y="785.8" width="19" height="19" fill="#fff" stroke="#000" stroke-width="2.6"/>
<rect x="1378.2" y="810" width="19" height="19" fill="#fff" stroke="#000" stroke-width="2.6"/>
<rect x="1431.7" y="734" width="19" height="19" fill="#fff" stroke="#000" stroke-width="2.6"/>
<rect x="1419.2" y="769.2" width="19" height="19" fill="#fff" stroke="#000" stroke-width="2.6"/>
<rect x="1620.9" y="784.7" width="19" height="19" fill="#fff" stroke="#000" stroke-width="2.6"/>
<polygon points="1348.3,699.8 1358.5,710 1348.3,720.2 1338.1,710" fill="#fff" stroke="#000" stroke-width="2.5"/>
<polygon points="1341.1,727.6 1351.3,737.8 1341.1,748 1330.9,737.8" fill="#fff" stroke="#000" stroke-width="2.5"/>
<polygon points="1228.2,746.5 1238.4,756.7 1228.2,766.9 1218,756.7" fill="#fff" stroke="#000" stroke-width="2.5"/>
<polygon points="1238.9,760.8 1249.1,771 1238.9,781.2 1228.7,771" fill="#fff" stroke="#000" stroke-width="2.5"/>
<polygon points="1260.5,755.8 1270.7,766 1260.5,776.2 1250.3,766" fill="#fff" stroke="#000" stroke-width="2.5"/>
<polygon points="1276.6,768.8 1286.8,779 1276.6,789.2 1266.4,779" fill="#fff" stroke="#000" stroke-width="2.5"/>
<polygon points="1289.1,778.8 1299.3,789 1289.1,799.2 1278.9,789" fill="#fff" stroke="#000" stroke-width="2.5"/>
<polygon points="1411.9,754.5 1422.1,764.7 1411.9,774.9 1401.7,764.7" fill="#fff" stroke="#000" stroke-width="2.5"/>
<polygon points="1236.3,785.1 1246.5,795.3 1236.3,805.5 1226.1,795.3" fill="#fff" stroke="#000" stroke-width="2.5"/>
<polygon points="1264.9,793.2 1275.1,803.4 1264.9,813.6 1254.7,803.4" fill="#fff" stroke="#000" stroke-width="2.5"/>
<polygon points="1305.3,849.6 1315.5,859.8 1305.3,870 1295.1,859.8" fill="#fff" stroke="#000" stroke-width="2.5"/>
<rect x="1614.7" y="748.5" width="19" height="19" fill="#878787" stroke="#000" stroke-width="2.6"/>
<rect x="1600" y="775.8" width="19" height="19" fill="#878787" stroke="#000" stroke-width="2.6"/>
<rect x="1677.3" y="812.7" width="19" height="19" fill="#878787" stroke="#000" stroke-width="2.6"/>
<rect x="1481.4" y="818.9" width="19" height="19" fill="#878787" stroke="#000" stroke-width="2.6"/>
<polygon points="1509.2,479.6 1519.4,489.8 1509.2,500 1499,489.8" fill="#bfbfbf" stroke="#000" stroke-width="2.5"/>
<polygon points="1496,555.6 1506.2,565.8 1496,576 1485.8,565.8" fill="#bfbfbf" stroke="#000" stroke-width="2.5"/>
<polygon points="1363,578.8 1373.2,589 1363,599.2 1352.8,589" fill="#bfbfbf" stroke="#000" stroke-width="2.5"/>
<polygon points="1260.5,780.5 1270.7,790.7 1260.5,800.9 1250.3,790.7" fill="#bfbfbf" stroke="#000" stroke-width="2.5"/>
<polygon points="1248.8,786.8 1259,797 1248.8,807.2 1238.6,797" fill="#bfbfbf" stroke="#000" stroke-width="2.5"/>
<polygon points="1247,812.9 1257.2,823.1 1247,833.3 1236.8,823.1" fill="#bfbfbf" stroke="#000" stroke-width="2.5"/>
<polygon points="1333.1,806.6 1343.3,816.8 1333.1,827 1322.9,816.8" fill="#bfbfbf" stroke="#000" stroke-width="2.5"/>
<polygon points="1277.5,834.4 1287.7,844.6 1277.5,854.8 1267.3,844.6" fill="#bfbfbf" stroke="#000" stroke-width="2.5"/>
<circle cx="1362.1" cy="740.5" r="9.8" fill="#fff" stroke="#000" stroke-width="2.6"/>
<circle cx="1358.2" cy="753.9" r="9.8" fill="#fff" stroke="#000" stroke-width="2.6"/>
<circle cx="1385.9" cy="764.5" r="9.8" fill="#fff" stroke="#000" stroke-width="2.6"/>
<circle cx="1393" cy="757" r="9.8" fill="#fff" stroke="#000" stroke-width="2.6"/>
<circle cx="1663" cy="676.5" r="9.8" fill="#fff" stroke="#000" stroke-width="2.6"/>
<circle cx="1729.3" cy="710.9" r="9.8" fill="#fff" stroke="#000" stroke-width="2.6"/>
<circle cx="1475.8" cy="775.6" r="9.8" fill="#fff" stroke="#000" stroke-width="2.6"/>
<rect x="1422.2" y="776.9" width="13" height="4" fill="#000"/>
<text x="1363.5" y="52" font-size="52.5" text-anchor="middle">б</text>
<text x="967.5" y="238.6" font-size="43" text-anchor="end">0.8</text>
<text x="967.5" y="399.5" font-size="43" text-anchor="end">0.6</text>
<text x="967.5" y="560.3" font-size="43" text-anchor="end">0.4</text>
<text x="967.5" y="721.2" font-size="43" text-anchor="end">0.2</text>
<text x="967.5" y="882" font-size="43" text-anchor="end">0.0</text>
<text x="1003.4" y="927.5" font-size="43" text-anchor="middle">0.0</text>
<text x="1187.2" y="927.5" font-size="43" text-anchor="middle">0.2</text>
<text x="1371.1" y="927.5" font-size="43" text-anchor="middle">0.4</text>
<text x="1554.9" y="927.5" font-size="43" text-anchor="middle">0.6</text>
<text x="1660" y="926.7" font-size="43.3" text-anchor="start">K/Al</text>
<text transform="translate(953.7 183.3) rotate(-90)" font-size="44.3" text-anchor="start">Mg/Al</text>
<text x="1144.5" y="125.3" font-size="36" text-anchor="start">Хлорит</text>
<text x="1016.8" y="796.5" font-size="35.6" text-anchor="start">Каолинит</text>
<text x="1521" y="741.4" font-size="36" text-anchor="start">Иллит/КПШ</text>
</g>
<g id="pv">
<rect x="123.5" y="1015.5" width="735.3" height="802.5" fill="none" stroke="#000" stroke-width="3.7"/>
<path d="M123.5 1777.9h8M123.5 1737.8h8M123.5 1697.6h8M123.5 1657.5h8M123.5 1617.4h8M123.5 1577.2h8M123.5 1537.1h8M123.5 1497h8M123.5 1456.9h8M123.5 1416.8h8M123.5 1376.6h8M123.5 1336.5h8M123.5 1296.4h8M123.5 1256.2h8M123.5 1216.1h8M123.5 1176h8M123.5 1135.9h8M123.5 1095.8h8M123.5 1055.6h8M160.3 1818v-7.6M197 1818v-7.6M233.8 1818v-7.6M270.6 1818v-7.6M307.3 1818v-7.6M344.1 1818v-7.6M380.9 1818v-7.6M417.6 1818v-7.6M454.4 1818v-7.6M491.1 1818v-7.6M527.9 1818v-7.6M564.7 1818v-7.6M601.4 1818v-7.6M638.2 1818v-7.6M675 1818v-7.6M711.7 1818v-7.6M748.5 1818v-7.6M785.3 1818v-7.6M822 1818v-7.6" stroke="#000" stroke-width="3" fill="none"/>
<polyline points="326.3,1100.8 404.8,1303.4 476.5,1388.6" fill="none" stroke="#000" stroke-width="6.5" stroke-linejoin="miter"/>
<polyline points="404.8,1303.4 312.6,1791.6" fill="none" stroke="#000" stroke-width="6.5" stroke-linejoin="miter"/>
<polyline points="476.5,1388.6 840.9,1366.4" fill="none" stroke="#000" stroke-width="6.5" stroke-linejoin="miter"/>
<polyline points="476,1388.6 469.7,1794.6" fill="none" stroke="#000" stroke-width="6.5" stroke-linejoin="miter"/>
<rect x="526.2" y="1085.3" width="13" height="4" fill="#000"/>
<rect x="659.6" y="1102.8" width="13" height="4" fill="#000"/>
<rect x="602.4" y="1193.1" width="13" height="4" fill="#000"/>
<rect x="710" y="1186.6" width="13" height="4" fill="#000"/>
<rect x="727.3" y="1251.1" width="13" height="4" fill="#000"/>
<rect x="528.5" y="1272.2" width="13" height="4" fill="#000"/>
<rect x="752.6" y="1296" width="13" height="4" fill="#000"/>
<rect x="764.9" y="1278.8" width="13" height="4" fill="#000"/>
<rect x="611.4" y="1317.7" width="13" height="4" fill="#000"/>
<rect x="564.3" y="1337.5" width="13" height="4" fill="#000"/>
<rect x="649" y="1337" width="13" height="4" fill="#000"/>
<rect x="691" y="1334.8" width="13" height="4" fill="#000"/>
<rect x="636" y="1365.5" width="13" height="4" fill="#000"/>
<rect x="568.8" y="1385.6" width="13" height="4" fill="#000"/>
<rect x="606.9" y="1405.8" width="13" height="4" fill="#000"/>
<rect x="807.9" y="1470.8" width="13" height="4" fill="#000"/>
<rect x="547.5" y="1522.3" width="13" height="4" fill="#000"/>
<rect x="816.1" y="1240.4" width="24" height="4" fill="#000"/>
<rect x="839" y="1268.6" width="24" height="4" fill="#000"/>
<rect x="831.1" y="1304.8" width="24" height="4" fill="#000"/>
<path d="M339.6 1066.2V1089.2M327.6 1077.7H339.6" fill="none" stroke="#000" stroke-width="2.2"/>
<path d="M443.8 1387.2V1410.2M431.8 1398.7H443.8" fill="none" stroke="#000" stroke-width="2.2"/>
<path d="M469.6 1432V1455M457.6 1443.5H469.6" fill="none" stroke="#000" stroke-width="2.2"/>
<path d="M465.1 1529.5V1552.5M453.1 1541H465.1" fill="none" stroke="#000" stroke-width="2.2"/>
<path d="M309.3 1420.8V1443.8M297.3 1432.3H309.3" fill="none" stroke="#000" stroke-width="2.2"/>
<path d="M328.4 1420.8V1443.8M316.4 1432.3H328.4" fill="none" stroke="#000" stroke-width="2.2"/>
<path d="M282.5 1440.3V1463.3M270.5 1451.8H282.5" fill="none" stroke="#000" stroke-width="2.2"/>
<path d="M271.3 1460V1483M259.3 1471.5H271.3" fill="none" stroke="#000" stroke-width="2.2"/>
<path d="M289.2 1485.8V1508.8M277.2 1497.3H289.2" fill="none" stroke="#000" stroke-width="2.2"/>
<path d="M267.6 1578.5V1601.5M255.6 1590H267.6" fill="none" stroke="#000" stroke-width="2.2"/>
<path d="M612.1 1113.9V1136.9M600.1 1125.4H612.1" fill="none" stroke="#000" stroke-width="2.2"/>
<path d="M696.8 1232.2V1255.2M684.8 1243.7H696.8" fill="none" stroke="#000" stroke-width="2.2"/>
<path d="M673.7 1266.3V1289.3M661.7 1277.8H673.7" fill="none" stroke="#000" stroke-width="2.2"/>
<path d="M755.5 1322.4V1345.4M743.5 1333.9H755.5" fill="none" stroke="#000" stroke-width="2.2"/>
<path d="M653.6 1342.5V1365.5M641.6 1354H653.6" fill="none" stroke="#000" stroke-width="2.2"/>
<path d="M661.5 1356V1379M649.5 1367.5H661.5" fill="none" stroke="#000" stroke-width="2.2"/>
<path d="M714.1 1382.9V1405.9M702.1 1394.4H714.1" fill="none" stroke="#000" stroke-width="2.2"/>
<path d="M802.6 1401.9V1424.9M790.6 1413.4H802.6" fill="none" stroke="#000" stroke-width="2.2"/>
<path d="M662.5 1434.4V1457.4M650.5 1445.9H662.5" fill="none" stroke="#000" stroke-width="2.2"/>
<path d="M552.7 1445.6V1468.6M540.7 1457.1H552.7" fill="none" stroke="#000" stroke-width="2.2"/>
<path d="M509 1516.2V1539.2M497 1527.7H509" fill="none" stroke="#000" stroke-width="2.2"/>
<path d="M329.9 1253.3L351.9 1275.3M340.9 1264.3L329.9 1275.3" fill="none" stroke="#000" stroke-width="2.2"/>
<path d="M405 1315L427 1337M416 1326L405 1337" fill="none" stroke="#000" stroke-width="2.2"/>
<path d="M357.9 1361.9L379.9 1383.9M368.9 1372.9L357.9 1383.9" fill="none" stroke="#000" stroke-width="2.2"/>
<path d="M277.2 1530L299.2 1552M288.2 1541L277.2 1552" fill="none" stroke="#000" stroke-width="2.2"/>
<path d="M702.8 1051.7L724.8 1073.7M713.8 1062.7L702.8 1073.7" fill="none" stroke="#000" stroke-width="2.2"/>
<path d="M535.7 1265.7L557.7 1287.7M546.7 1276.7L535.7 1287.7" fill="none" stroke="#000" stroke-width="2.2"/>
<path d="M592 1273L614 1295M603 1284L592 1295" fill="none" stroke="#000" stroke-width="2.2"/>
<path d="M672.5 1288L694.5 1310M683.5 1299L672.5 1310" fill="none" stroke="#000" stroke-width="2.2"/>
<path d="M772.7 1278L794.7 1300M783.7 1289L772.7 1300" fill="none" stroke="#000" stroke-width="2.2"/>
<path d="M567.7 1322.9L589.7 1344.9M578.7 1333.9L567.7 1344.9" fill="none" stroke="#000" stroke-width="2.2"/>
<path d="M692 1327.3L714 1349.3M703 1338.3L692 1349.3" fill="none" stroke="#000" stroke-width="2.2"/>
<path d="M488.1 1353.1L510.1 1375.1M499.1 1364.1L488.1 1375.1" fill="none" stroke="#000" stroke-width="2.2"/>
<path d="M631.5 1386.7L653.5 1408.7M642.5 1397.7L631.5 1408.7" fill="none" stroke="#000" stroke-width="2.2"/>
<path d="M485.9 1404.7L507.9 1426.7M496.9 1415.7L485.9 1426.7" fill="none" stroke="#000" stroke-width="2.2"/>
<path d="M536.3 1491L558.3 1513M547.3 1502L536.3 1513" fill="none" stroke="#000" stroke-width="2.2"/>
<path d="M430.7 1424.7L452.7 1446.7M452.7 1424.7L430.7 1446.7" fill="none" stroke="#000" stroke-width="2.2"/>
<path d="M391.5 1451.5L413.5 1473.5M413.5 1451.5L391.5 1473.5" fill="none" stroke="#000" stroke-width="2.2"/>
<path d="M439 1411L461 1433M461 1411L439 1433" fill="none" stroke="#000" stroke-width="2.2"/>
<path d="M400.5 1438.1L422.5 1460.1M422.5 1438.1L400.5 1460.1M411.5 1438.1V1460.1" fill="none" stroke="#000" stroke-width="2.2"/>
<path d="M318.7 1458.3L340.7 1480.3M340.7 1458.3L318.7 1480.3M329.7 1458.3V1480.3" fill="none" stroke="#000" stroke-width="2.2"/>
<path d="M233.5 1516.5L255.5 1538.5M255.5 1516.5L233.5 1538.5M244.5 1516.5V1538.5" fill="none" stroke="#000" stroke-width="2.2"/>
<path d="M247.9 1775L269.9 1797M269.9 1775L247.9 1797M258.9 1775V1797" fill="none" stroke="#000" stroke-width="2.2"/>
<polygon points="788.2,1330.8 797.7,1350.4 778.7,1350.4" fill="#878787" stroke="#000" stroke-width="2.6"/>
<polygon points="798.7,1354.2 808.2,1373.9 789.2,1373.9" fill="#878787" stroke="#000" stroke-width="2.6"/>
<polygon points="773.6,1400.2 783.1,1419.8 764.1,1419.8" fill="#878787" stroke="#000" stroke-width="2.6"/>
<polygon points="821.8,1410.8 831.3,1430.4 812.3,1430.4" fill="#878787" stroke="#000" stroke-width="2.6"/>
<polygon points="764.7,1423.2 774.2,1442.8 755.2,1442.8" fill="#878787" stroke="#000" stroke-width="2.6"/>
<polygon points="796,1423.8 805.5,1443.4 786.5,1443.4" fill="#878787" stroke="#000" stroke-width="2.6"/>
<polygon points="715.8,1451.8 725.3,1471.4 706.3,1471.4" fill="#878787" stroke="#000" stroke-width="2.6"/>
<polygon points="524.9,1285.9 534.4,1305.5 515.4,1305.5" fill="#fff" stroke="#000" stroke-width="2.6"/>
<polygon points="603.3,1272.5 612.8,1292.1 593.8,1292.1" fill="#fff" stroke="#000" stroke-width="2.6"/>
<polygon points="635.8,1316.2 645.3,1335.8 626.3,1335.8" fill="#fff" stroke="#000" stroke-width="2.6"/>
<polygon points="626.9,1325.2 636.4,1344.8 617.4,1344.8" fill="#fff" stroke="#000" stroke-width="2.6"/>
<polygon points="555.2,1356.6 564.7,1376.2 545.7,1376.2" fill="#fff" stroke="#000" stroke-width="2.6"/>
<polygon points="593.2,1358.8 602.7,1378.4 583.7,1378.4" fill="#fff" stroke="#000" stroke-width="2.6"/>
<polygon points="517.1,1379 526.6,1398.6 507.6,1398.6" fill="#fff" stroke="#000" stroke-width="2.6"/>
<polygon points="624.6,1375.6 634.1,1395.2 615.1,1395.2" fill="#fff" stroke="#000" stroke-width="2.6"/>
<polygon points="635.8,1396.9 645.3,1416.5 626.3,1416.5" fill="#fff" stroke="#000" stroke-width="2.6"/>
<polygon points="555,1385.7 564.5,1405.3 545.5,1405.3" fill="#fff" stroke="#000" stroke-width="2.6"/>
<circle cx="442.9" cy="1346" r="9.8" fill="#878787" stroke="#000" stroke-width="2.6"/>
<circle cx="452.9" cy="1347.6" r="9.8" fill="#878787" stroke="#000" stroke-width="2.6"/>
<circle cx="469.7" cy="1341.1" r="9.8" fill="#878787" stroke="#000" stroke-width="2.6"/>
<circle cx="472" cy="1384.1" r="9.8" fill="#878787" stroke="#000" stroke-width="2.6"/>
<circle cx="440.6" cy="1462.5" r="9.8" fill="#878787" stroke="#000" stroke-width="2.6"/>
<circle cx="533.4" cy="1385" r="9.8" fill="#878787" stroke="#000" stroke-width="2.6"/>
<circle cx="558.5" cy="1377.6" r="9.8" fill="#878787" stroke="#000" stroke-width="2.6"/>
<circle cx="559.6" cy="1412.3" r="9.8" fill="#878787" stroke="#000" stroke-width="2.6"/>
<circle cx="577.6" cy="1423.5" r="9.8" fill="#878787" stroke="#000" stroke-width="2.6"/>
<circle cx="518.2" cy="1428" r="9.8" fill="#878787" stroke="#000" stroke-width="2.6"/>
<circle cx="520.4" cy="1433.6" r="9.8" fill="#878787" stroke="#000" stroke-width="2.6"/>
<circle cx="467.5" cy="1404.3" r="9.8" fill="#000" stroke="#000" stroke-width="2.6"/>
<circle cx="556.3" cy="1500.8" r="9.8" fill="#000" stroke="#000" stroke-width="2.6"/>
<polygon points="485.4,1456.8 495.6,1467 485.4,1477.2 475.2,1467" fill="#000" stroke="#000" stroke-width="2.5"/>
<polygon points="489.9,1543.3 500.1,1553.5 489.9,1563.7 479.7,1553.5" fill="#000" stroke="#000" stroke-width="2.5"/>
<polygon points="624.6,1457 634.8,1467.2 624.6,1477.4 614.4,1467.2" fill="#000" stroke="#000" stroke-width="2.5"/>
<polygon points="625.7,1467.1 635.9,1477.3 625.7,1487.5 615.5,1477.3" fill="#000" stroke="#000" stroke-width="2.5"/>
<polygon points="579.8,1472.7 590,1482.9 579.8,1493.1 569.6,1482.9" fill="#000" stroke="#000" stroke-width="2.5"/>
<polygon points="544,1463.7 554.2,1473.9 544,1484.1 533.8,1473.9" fill="#000" stroke="#000" stroke-width="2.5"/>
<polygon points="576.4,1445.8 586.6,1456 576.4,1466.2 566.2,1456" fill="#000" stroke="#000" stroke-width="2.5"/>
<polygon points="564.1,1454.8 574.3,1465 564.1,1475.2 553.9,1465" fill="#000" stroke="#000" stroke-width="2.5"/>
<polygon points="559.6,1474.9 569.8,1485.1 559.6,1495.3 549.4,1485.1" fill="#000" stroke="#000" stroke-width="2.5"/>
<polygon points="566.4,1463.8 576.6,1474 566.4,1484.2 556.2,1474" fill="#000" stroke="#000" stroke-width="2.5"/>
<polygon points="485.7,1445.8 495.9,1456 485.7,1466.2 475.5,1456" fill="#000" stroke="#000" stroke-width="2.5"/>
<polygon points="481.2,1461.5 491.4,1471.7 481.2,1481.9 471,1471.7" fill="#000" stroke="#000" stroke-width="2.5"/>
<polygon points="490.2,1468.2 500.4,1478.4 490.2,1488.6 480,1478.4" fill="#000" stroke="#000" stroke-width="2.5"/>
<rect x="312.3" y="1495.2" width="19" height="19" fill="#fff" stroke="#000" stroke-width="2.6"/>
<rect x="671.1" y="1125.3" width="19" height="19" fill="#fff" stroke="#000" stroke-width="2.6"/>
<rect x="728.7" y="1153.3" width="19" height="19" fill="#fff" stroke="#000" stroke-width="2.6"/>
<rect x="664.9" y="1254.4" width="19" height="19" fill="#fff" stroke="#000" stroke-width="2.6"/>
<rect x="682.3" y="1361.8" width="19" height="19" fill="#fff" stroke="#000" stroke-width="2.6"/>
<rect x="837" y="1383.7" width="19" height="19" fill="#fff" stroke="#000" stroke-width="2.6"/>
<rect x="811.2" y="1429.7" width="19" height="19" fill="#fff" stroke="#000" stroke-width="2.6"/>
<rect x="750" y="1479" width="19" height="19" fill="#fff" stroke="#000" stroke-width="2.6"/>
<rect x="589.5" y="1437.5" width="19" height="19" fill="#fff" stroke="#000" stroke-width="2.6"/>
<rect x="505.3" y="1453.2" width="19" height="19" fill="#fff" stroke="#000" stroke-width="2.6"/>
<rect x="553" y="1521.6" width="19" height="19" fill="#fff" stroke="#000" stroke-width="2.6"/>
<rect x="549" y="1557.7" width="19" height="19" fill="#fff" stroke="#000" stroke-width="2.6"/>
<polygon points="358.8,1269.8 369,1280 358.8,1290.2 348.6,1280" fill="#fff" stroke="#000" stroke-width="2.5"/>
<polygon points="409.9,1345.5 420.1,1355.7 409.9,1365.9 399.7,1355.7" fill="#fff" stroke="#000" stroke-width="2.5"/>
<polygon points="422.7,1519.6 432.9,1529.8 422.7,1540 412.5,1529.8" fill="#fff" stroke="#000" stroke-width="2.5"/>
<polygon points="326.3,1545.3 336.5,1555.5 326.3,1565.7 316.1,1555.5" fill="#fff" stroke="#000" stroke-width="2.5"/>
<polygon points="358.8,1582.3 369,1592.5 358.8,1602.7 348.6,1592.5" fill="#fff" stroke="#000" stroke-width="2.5"/>
<polygon points="394.5,1637.7 404.7,1647.9 394.5,1658.1 384.3,1647.9" fill="#fff" stroke="#000" stroke-width="2.5"/>
<polygon points="168.1,1693.9 178.3,1704.1 168.1,1714.3 157.9,1704.1" fill="#fff" stroke="#000" stroke-width="2.5"/>
<polygon points="792.2,1153.8 802.4,1164 792.2,1174.2 782,1164" fill="#fff" stroke="#000" stroke-width="2.5"/>
<polygon points="629.6,1240 639.8,1250.2 629.6,1260.4 619.4,1250.2" fill="#fff" stroke="#000" stroke-width="2.5"/>
<polygon points="576,1274 586.2,1284.2 576,1294.4 565.8,1284.2" fill="#fff" stroke="#000" stroke-width="2.5"/>
<polygon points="610,1287.8 620.2,1298 610,1308.2 599.8,1298" fill="#fff" stroke="#000" stroke-width="2.5"/>
<polygon points="621.3,1349 631.5,1359.2 621.3,1369.4 611.1,1359.2" fill="#fff" stroke="#000" stroke-width="2.5"/>
<polygon points="527.1,1343.8 537.3,1354 527.1,1364.2 516.9,1354" fill="#fff" stroke="#000" stroke-width="2.5"/>
<polygon points="539.5,1353.9 549.7,1364.1 539.5,1374.3 529.3,1364.1" fill="#fff" stroke="#000" stroke-width="2.5"/>
<polygon points="495.8,1458.1 506,1468.3 495.8,1478.5 485.6,1468.3" fill="#fff" stroke="#000" stroke-width="2.5"/>
<rect x="242.4" y="1469.9" width="19" height="19" fill="#878787" stroke="#000" stroke-width="2.6"/>
<rect x="183" y="1521.4" width="19" height="19" fill="#878787" stroke="#000" stroke-width="2.6"/>
<rect x="804.9" y="1258.7" width="19" height="19" fill="#878787" stroke="#000" stroke-width="2.6"/>
<rect x="724.5" y="1383.7" width="19" height="19" fill="#878787" stroke="#000" stroke-width="2.6"/>
<polygon points="456.3,1264.2 466.5,1274.4 456.3,1284.6 446.1,1274.4" fill="#bfbfbf" stroke="#000" stroke-width="2.5"/>
<polygon points="465.3,1362.7 475.5,1372.9 465.3,1383.1 455.1,1372.9" fill="#bfbfbf" stroke="#000" stroke-width="2.5"/>
<polygon points="431.7,1441.1 441.9,1451.3 431.7,1461.5 421.5,1451.3" fill="#bfbfbf" stroke="#000" stroke-width="2.5"/>
<polygon points="468.6,1490.4 478.8,1500.6 468.6,1510.8 458.4,1500.6" fill="#bfbfbf" stroke="#000" stroke-width="2.5"/>
<polygon points="478.7,1500.5 488.9,1510.7 478.7,1520.9 468.5,1510.7" fill="#bfbfbf" stroke="#000" stroke-width="2.5"/>
<polygon points="416,1540.9 426.2,1551.1 416,1561.3 405.8,1551.1" fill="#bfbfbf" stroke="#000" stroke-width="2.5"/>
<polygon points="168.1,1599.8 178.3,1610 168.1,1620.2 157.9,1610" fill="#bfbfbf" stroke="#000" stroke-width="2.5"/>
<polygon points="626.9,1153.8 637.1,1164 626.9,1174.2 616.7,1164" fill="#bfbfbf" stroke="#000" stroke-width="2.5"/>
<polygon points="545.1,1285.3 555.3,1295.5 545.1,1305.7 534.9,1295.5" fill="#bfbfbf" stroke="#000" stroke-width="2.5"/>
<polygon points="709.5,1288.9 719.7,1299.1 709.5,1309.3 699.3,1299.1" fill="#bfbfbf" stroke="#000" stroke-width="2.5"/>
<polygon points="527.8,1352.8 538,1363 527.8,1373.2 517.6,1363" fill="#bfbfbf" stroke="#000" stroke-width="2.5"/>
<polygon points="567.5,1350.6 577.7,1360.8 567.5,1371 557.3,1360.8" fill="#bfbfbf" stroke="#000" stroke-width="2.5"/>
<polygon points="597.7,1358.4 607.9,1368.6 597.7,1378.8 587.5,1368.6" fill="#bfbfbf" stroke="#000" stroke-width="2.5"/>
<polygon points="541.7,1396.5 551.9,1406.7 541.7,1416.9 531.5,1406.7" fill="#bfbfbf" stroke="#000" stroke-width="2.5"/>
<polygon points="576.4,1404.3 586.6,1414.5 576.4,1424.7 566.2,1414.5" fill="#bfbfbf" stroke="#000" stroke-width="2.5"/>
<polygon points="536.1,1422.3 546.3,1432.5 536.1,1442.7 525.9,1432.5" fill="#bfbfbf" stroke="#000" stroke-width="2.5"/>
<polygon points="502.5,1441.3 512.7,1451.5 502.5,1461.7 492.3,1451.5" fill="#bfbfbf" stroke="#000" stroke-width="2.5"/>
<polygon points="500.3,1480.5 510.5,1490.7 500.3,1500.9 490.1,1490.7" fill="#bfbfbf" stroke="#000" stroke-width="2.5"/>
<circle cx="460.8" cy="1417.7" r="9.8" fill="#fff" stroke="#000" stroke-width="2.6"/>
<circle cx="814.4" cy="1344" r="9.8" fill="#fff" stroke="#000" stroke-width="2.6"/>
<circle cx="855" cy="1354.7" r="9.8" fill="#fff" stroke="#000" stroke-width="2.6"/>
<circle cx="765.8" cy="1430.2" r="9.8" fill="#fff" stroke="#000" stroke-width="2.6"/>
<circle cx="607.1" cy="1447" r="9.8" fill="#000" stroke="#000" stroke-width="2.6"/>
<text x="494.3" y="992.4" font-size="52" text-anchor="middle">в</text>
<text x="90.5" y="1228.1" font-size="43" text-anchor="end">5</text>
<text x="90.5" y="1428.8" font-size="43" text-anchor="end">0</text>
<text x="90.5" y="1629.4" font-size="43" text-anchor="end">-5</text>
<text x="90.5" y="1830" font-size="43" text-anchor="end">-10</text>
<text x="118.5" y="1877" font-size="43" text-anchor="middle">-10</text>
<text x="303.8" y="1877" font-size="43" text-anchor="middle">-5</text>
<text x="487.9" y="1877" font-size="43" text-anchor="middle">0</text>
<text x="673.2" y="1877" font-size="43" text-anchor="middle">5</text>
<text x="829" y="1877.6" font-size="45" text-anchor="start">F1</text>
<text transform="translate(76.5 1039.5) rotate(-90)" font-size="46" text-anchor="start">F2</text>
<text x="391.3" y="1114.2" font-size="36" text-anchor="start">Богатый</text>
<text x="391.3" y="1154.5" font-size="36" text-anchor="start">кварцем</text>
<text x="391.3" y="1194.9" font-size="36" text-anchor="start">осадочный</text>
<text x="391.3" y="1235.2" font-size="36" text-anchor="start">источник</text>
<text x="152.7" y="1301.3" font-size="36" text-anchor="start">Основные</text>
<text x="152.7" y="1341.6" font-size="36" text-anchor="start">изверженные</text>
<text x="152.7" y="1381.9" font-size="36" text-anchor="start">породы</text>
<text x="752.6" y="1633.3" font-size="36" text-anchor="end">Кислые</text>
<text x="752.6" y="1673.6" font-size="36" text-anchor="end">изверженные</text>
<text x="752.6" y="1713.9" font-size="36" text-anchor="end">породы</text>
</g>
<g id="pg">
<rect x="997.4" y="1015.5" width="740.4" height="801" fill="none" stroke="#000" stroke-width="3.7"/>
<path d="M1737.6 1013.7V1818.3" stroke="#000" stroke-width="4.5" fill="none"/>
<path d="M997.4 1776.5h8M997.4 1736.4h8M997.4 1696.3h8M997.4 1656.3h8M997.4 1616.2h8M997.4 1576.2h8M997.4 1536.2h8M997.4 1496.1h8M997.4 1456h8M997.4 1416h8M997.4 1376h8M997.4 1335.9h8M997.4 1295.8h8M997.4 1255.8h8M997.4 1215.8h8M997.4 1175.7h8M997.4 1135.7h8M997.4 1095.6h8M997.4 1055.5h8M1165.6 1816.5v-7.6M1201.3 1816.5v-7.6M1237.1 1816.5v-7.6M1272.8 1816.5v-7.6M1308.6 1816.5v-7.6M1344.3 1816.5v-7.6M1380.1 1816.5v-7.6M1415.8 1816.5v-7.6M1451.6 1816.5v-7.6M1487.3 1816.5v-7.6M1523.1 1816.5v-7.6M1558.8 1816.5v-7.6M1594.6 1816.5v-7.6M1630.3 1816.5v-7.6M1666.1 1816.5v-7.6M1701.8 1816.5v-7.6" stroke="#000" stroke-width="3" fill="none"/>
<polyline points="1221.4,1099.9 1300.4,1305.3 1367.6,1385.5" fill="none" stroke="#000" stroke-width="6.5" stroke-linejoin="miter"/>
<polyline points="1300.4,1305.3 1207.3,1790.5" fill="none" stroke="#000" stroke-width="6.5" stroke-linejoin="miter"/>
<polyline points="1367.6,1388.5 1722.5,1365.4" fill="none" stroke="#000" stroke-width="6.5" stroke-linejoin="miter"/>
<polyline points="1367.6,1386 1360.8,1793.8" fill="none" stroke="#000" stroke-width="6.5" stroke-linejoin="miter"/>
<rect x="1629" y="1184.3" width="13" height="4" fill="#000"/>
<rect x="1559.3" y="1261.6" width="13" height="4" fill="#000"/>
<rect x="1595.9" y="1074.5" width="13" height="4" fill="#000"/>
<rect x="1674.2" y="1136.4" width="13" height="4" fill="#000"/>
<rect x="1604.1" y="1198" width="13" height="4" fill="#000"/>
<rect x="1611.1" y="1212.1" width="13" height="4" fill="#000"/>
<rect x="1594.7" y="1241.5" width="13" height="4" fill="#000"/>
<rect x="1577" y="1259.6" width="13" height="4" fill="#000"/>
<rect x="1544.1" y="1298" width="13" height="4" fill="#000"/>
<rect x="1615.9" y="1298" width="13" height="4" fill="#000"/>
<rect x="1630.4" y="1141.1" width="24" height="4" fill="#000"/>
<rect x="1693.9" y="1130.9" width="24" height="4" fill="#000"/>
<rect x="1646.8" y="1149.8" width="24" height="4" fill="#000"/>
<rect x="1582.1" y="1172.1" width="24" height="4" fill="#000"/>
<rect x="1608" y="1172.1" width="24" height="4" fill="#000"/>
<rect x="1685.6" y="1222.7" width="24" height="4" fill="#000"/>
<rect x="1595.1" y="1272.1" width="24" height="4" fill="#000"/>
<rect x="1640.9" y="1280.4" width="24" height="4" fill="#000"/>
<rect x="1663.3" y="1274.5" width="24" height="4" fill="#000"/>
<rect x="1528" y="1308.6" width="24" height="4" fill="#000"/>
<rect x="1684.5" y="1308.6" width="24" height="4" fill="#000"/>
<rect x="1562.1" y="1368.6" width="24" height="4" fill="#000"/>
<path d="M1618.9 1057.9V1080.9M1606.9 1069.4H1618.9" fill="none" stroke="#000" stroke-width="2.2"/>
<path d="M1637.7 1057.9V1080.9M1625.7 1069.4H1637.7" fill="none" stroke="#000" stroke-width="2.2"/>
<path d="M1427 1266.5V1289.5M1415 1278H1427" fill="none" stroke="#000" stroke-width="2.2"/>
<path d="M1318.3 1405.9V1428.9M1306.3 1417.4H1318.3" fill="none" stroke="#000" stroke-width="2.2"/>
<path d="M1625 1119V1142M1613 1130.5H1625" fill="none" stroke="#000" stroke-width="2.2"/>
<path d="M1577 1159L1599 1181M1588 1170L1577 1181" fill="none" stroke="#000" stroke-width="2.2"/>
<path d="M1634.9 1064.3L1656.9 1086.3M1645.9 1075.3L1634.9 1086.3" fill="none" stroke="#000" stroke-width="2.2"/>
<path d="M1663.1 1099.6L1685.1 1121.6M1674.1 1110.6L1663.1 1121.6" fill="none" stroke="#000" stroke-width="2.2"/>
<path d="M1611.4 1111.4L1633.4 1133.4M1622.4 1122.4L1611.4 1133.4" fill="none" stroke="#000" stroke-width="2.2"/>
<path d="M1599.6 1233.7L1621.6 1255.7M1610.6 1244.7L1599.6 1255.7" fill="none" stroke="#000" stroke-width="2.2"/>
<path d="M1550.2 1259.6L1572.2 1281.6M1561.2 1270.6L1550.2 1281.6" fill="none" stroke="#000" stroke-width="2.2"/>
<path d="M1579.6 1261.9L1601.6 1283.9M1590.6 1272.9L1579.6 1283.9" fill="none" stroke="#000" stroke-width="2.2"/>
<path d="M1641.9 1167.8L1663.9 1189.8M1663.9 1167.8L1641.9 1189.8" fill="none" stroke="#000" stroke-width="2.2"/>
<path d="M1630.2 1193.7L1652.2 1215.7M1652.2 1193.7L1630.2 1215.7" fill="none" stroke="#000" stroke-width="2.2"/>
<path d="M1601.9 1207.8L1623.9 1229.8M1623.9 1207.8L1601.9 1229.8" fill="none" stroke="#000" stroke-width="2.2"/>
<path d="M1583.1 1193.7L1605.1 1215.7M1605.1 1193.7L1583.1 1215.7" fill="none" stroke="#000" stroke-width="2.2"/>
<path d="M1573.7 1233.7L1595.7 1255.7M1595.7 1233.7L1573.7 1255.7" fill="none" stroke="#000" stroke-width="2.2"/>
<path d="M1589 1219L1611 1241M1611 1219L1589 1241" fill="none" stroke="#000" stroke-width="2.2"/>
<path d="M1533.7 1217.2L1555.7 1239.2M1555.7 1217.2L1533.7 1239.2M1544.7 1217.2V1239.2" fill="none" stroke="#000" stroke-width="2.2"/>
<path d="M1519.6 1240.8L1541.6 1262.8M1541.6 1240.8L1519.6 1262.8M1530.6 1240.8V1262.8" fill="none" stroke="#000" stroke-width="2.2"/>
<polygon points="1655.3,1069.1 1664.6,1088.5 1646,1088.5" fill="#878787" stroke="#000" stroke-width="2.6"/>
<polygon points="1655.3,1064.3 1664.6,1083.7 1646,1083.7" fill="#878787" stroke="#000" stroke-width="2.6"/>
<polygon points="1717.2,1129.1 1726.5,1148.5 1707.9,1148.5" fill="#878787" stroke="#000" stroke-width="2.6"/>
<polygon points="1702.4,1165.6 1711.7,1185 1693.1,1185" fill="#878787" stroke="#000" stroke-width="2.6"/>
<polygon points="1627.1,1171.5 1636.4,1190.9 1617.8,1190.9" fill="#878787" stroke="#000" stroke-width="2.6"/>
<polygon points="1736.5,1186.8 1745.8,1206.2 1727.2,1206.2" fill="#878787" stroke="#000" stroke-width="2.6"/>
<polygon points="1669.4,1195 1678.7,1214.4 1660.1,1214.4" fill="#878787" stroke="#000" stroke-width="2.6"/>
<polygon points="1685.9,1195 1695.2,1214.4 1676.6,1214.4" fill="#878787" stroke="#000" stroke-width="2.6"/>
<polygon points="1688.2,1204.4 1697.5,1223.8 1678.9,1223.8" fill="#878787" stroke="#000" stroke-width="2.6"/>
<polygon points="1734.1,1218.5 1743.4,1237.9 1724.8,1237.9" fill="#878787" stroke="#000" stroke-width="2.6"/>
<polygon points="1622.4,1270.8 1631.7,1290.2 1613.1,1290.2" fill="#878787" stroke="#000" stroke-width="2.6"/>
<polygon points="1714.1,1270.8 1723.4,1290.2 1704.8,1290.2" fill="#878787" stroke="#000" stroke-width="2.6"/>
<polygon points="1720,1268.3 1729.3,1287.7 1710.7,1287.7" fill="#878787" stroke="#000" stroke-width="2.6"/>
<polygon points="1667.1,1310.3 1676.4,1329.7 1657.8,1329.7" fill="#878787" stroke="#000" stroke-width="2.6"/>
<polygon points="1551.8,1060.9 1561.1,1080.3 1542.5,1080.3" fill="#fff" stroke="#000" stroke-width="2.6"/>
<polygon points="1549.4,1086.8 1558.7,1106.2 1540.1,1106.2" fill="#fff" stroke="#000" stroke-width="2.6"/>
<polygon points="1570.1,1082.1 1579.4,1101.5 1560.8,1101.5" fill="#fff" stroke="#000" stroke-width="2.6"/>
<polygon points="1592.9,1073.8 1602.2,1093.2 1583.6,1093.2" fill="#fff" stroke="#000" stroke-width="2.6"/>
<polygon points="1605.4,1088.7 1614.7,1108.1 1596.1,1108.1" fill="#fff" stroke="#000" stroke-width="2.6"/>
<polygon points="1534.8,1110.3 1544.1,1129.7 1525.5,1129.7" fill="#fff" stroke="#000" stroke-width="2.6"/>
<polygon points="1597.6,1111.5 1606.9,1130.9 1588.3,1130.9" fill="#fff" stroke="#000" stroke-width="2.6"/>
<polygon points="1667.1,1100.9 1676.4,1120.3 1657.8,1120.3" fill="#fff" stroke="#000" stroke-width="2.6"/>
<polygon points="1558.8,1120.9 1568.1,1140.3 1549.5,1140.3" fill="#fff" stroke="#000" stroke-width="2.6"/>
<polygon points="1563.5,1124.4 1572.8,1143.8 1554.2,1143.8" fill="#fff" stroke="#000" stroke-width="2.6"/>
<polygon points="1598.8,1126.8 1608.1,1146.2 1589.5,1146.2" fill="#fff" stroke="#000" stroke-width="2.6"/>
<polygon points="1615.3,1131.5 1624.6,1150.9 1606,1150.9" fill="#fff" stroke="#000" stroke-width="2.6"/>
<polygon points="1570.6,1160.9 1579.9,1180.3 1561.3,1180.3" fill="#fff" stroke="#000" stroke-width="2.6"/>
<polygon points="1612.9,1171.5 1622.2,1190.9 1603.6,1190.9" fill="#fff" stroke="#000" stroke-width="2.6"/>
<polygon points="1663.5,1243.2 1672.8,1262.6 1654.2,1262.6" fill="#fff" stroke="#000" stroke-width="2.6"/>
<polygon points="1554,1185.3 1563.3,1204.7 1544.7,1204.7" fill="#fff" stroke="#000" stroke-width="2.6"/>
<polygon points="1575,1185.3 1584.3,1204.7 1565.7,1204.7" fill="#fff" stroke="#000" stroke-width="2.6"/>
<circle cx="1580" cy="1134.1" r="8.4" fill="#fff" stroke="#000" stroke-width="2.6"/>
<circle cx="1576.5" cy="1135.3" r="8.4" fill="#878787" stroke="#000" stroke-width="2.6"/>
<circle cx="1555.3" cy="1145.9" r="8.4" fill="#878787" stroke="#000" stroke-width="2.6"/>
<circle cx="1565.9" cy="1145.9" r="8.4" fill="#878787" stroke="#000" stroke-width="2.6"/>
<circle cx="1574.1" cy="1152.9" r="8.4" fill="#878787" stroke="#000" stroke-width="2.6"/>
<circle cx="1550.6" cy="1177.6" r="8.4" fill="#878787" stroke="#000" stroke-width="2.6"/>
<circle cx="1528.2" cy="1183.5" r="8.4" fill="#878787" stroke="#000" stroke-width="2.6"/>
<circle cx="1534.1" cy="1185.9" r="8.4" fill="#878787" stroke="#000" stroke-width="2.6"/>
<circle cx="1540" cy="1192.9" r="8.4" fill="#878787" stroke="#000" stroke-width="2.6"/>
<circle cx="1535.3" cy="1200" r="8.4" fill="#878787" stroke="#000" stroke-width="2.6"/>
<circle cx="1581.2" cy="1192.9" r="8.4" fill="#878787" stroke="#000" stroke-width="2.6"/>
<circle cx="1549.4" cy="1214.1" r="8.4" fill="#878787" stroke="#000" stroke-width="2.6"/>
<circle cx="1483.5" cy="1228.2" r="8.4" fill="#878787" stroke="#000" stroke-width="2.6"/>
<circle cx="1512.9" cy="1276.5" r="8.4" fill="#878787" stroke="#000" stroke-width="2.6"/>
<circle cx="1501.2" cy="1282.4" r="8.4" fill="#878787" stroke="#000" stroke-width="2.6"/>
<circle cx="1501.2" cy="1297" r="8.4" fill="#878787" stroke="#000" stroke-width="2.6"/>
<circle cx="1555.3" cy="1236.5" r="9.3" fill="#000" stroke="#000" stroke-width="2.6"/>
<polygon points="1467.1,1281.2 1477.1,1291.2 1467.1,1301.2 1457.1,1291.2" fill="#000" stroke="#000" stroke-width="2.5"/>
<polygon points="1537.6,1282.9 1547.6,1292.9 1537.6,1302.9 1527.6,1292.9" fill="#000" stroke="#000" stroke-width="2.5"/>
<polygon points="1549.4,1248.8 1559.4,1258.8 1549.4,1268.8 1539.4,1258.8" fill="#000" stroke="#000" stroke-width="2.5"/>
<polygon points="1375.3,1364.1 1385.3,1374.1 1375.3,1384.1 1365.3,1374.1" fill="#000" stroke="#000" stroke-width="2.5"/>
<polygon points="1420,1352.4 1430,1362.4 1420,1372.4 1410,1362.4" fill="#000" stroke="#000" stroke-width="2.5"/>
<polygon points="1432.9,1337.1 1442.9,1347.1 1432.9,1357.1 1422.9,1347.1" fill="#000" stroke="#000" stroke-width="2.5"/>
<polygon points="1447.1,1341.8 1457.1,1351.8 1447.1,1361.8 1437.1,1351.8" fill="#000" stroke="#000" stroke-width="2.5"/>
<polygon points="1434.1,1320.6 1444.1,1330.6 1434.1,1340.6 1424.1,1330.6" fill="#000" stroke="#000" stroke-width="2.5"/>
<polygon points="1429.4,1311.2 1439.4,1321.2 1429.4,1331.2 1419.4,1321.2" fill="#000" stroke="#000" stroke-width="2.5"/>
<polygon points="1431.8,1299.4 1441.8,1309.4 1431.8,1319.4 1421.8,1309.4" fill="#000" stroke="#000" stroke-width="2.5"/>
<polygon points="1462.4,1332.4 1472.4,1342.4 1462.4,1352.4 1452.4,1342.4" fill="#000" stroke="#000" stroke-width="2.5"/>
<polygon points="1455.3,1320.6 1465.3,1330.6 1455.3,1340.6 1445.3,1330.6" fill="#000" stroke="#000" stroke-width="2.5"/>
<polygon points="1485.9,1339.4 1495.9,1349.4 1485.9,1359.4 1475.9,1349.4" fill="#000" stroke="#000" stroke-width="2.5"/>
<polygon points="1478.8,1322.9 1488.8,1332.9 1478.8,1342.9 1468.8,1332.9" fill="#000" stroke="#000" stroke-width="2.5"/>
<polygon points="1485.9,1311.2 1495.9,1321.2 1485.9,1331.2 1475.9,1321.2" fill="#000" stroke="#000" stroke-width="2.5"/>
<polygon points="1504.7,1342.9 1514.7,1352.9 1504.7,1362.9 1494.7,1352.9" fill="#000" stroke="#000" stroke-width="2.5"/>
<polygon points="1509.4,1331.2 1519.4,1341.2 1509.4,1351.2 1499.4,1341.2" fill="#000" stroke="#000" stroke-width="2.5"/>
<polygon points="1543.5,1345.3 1553.5,1355.3 1543.5,1365.3 1533.5,1355.3" fill="#000" stroke="#000" stroke-width="2.5"/>
<polygon points="1504.7,1301.8 1514.7,1311.8 1504.7,1321.8 1494.7,1311.8" fill="#000" stroke="#000" stroke-width="2.5"/>
<polygon points="1522.4,1299.4 1532.4,1309.4 1522.4,1319.4 1512.4,1309.4" fill="#000" stroke="#000" stroke-width="2.5"/>
<polygon points="1471.8,1297 1481.8,1307 1471.8,1317 1461.8,1307" fill="#000" stroke="#000" stroke-width="2.5"/>
<polygon points="1518.8,1287.2 1528.8,1297.2 1518.8,1307.2 1508.8,1297.2" fill="#000" stroke="#000" stroke-width="2.5"/>
<polygon points="1523.2,1255.9 1533.2,1265.9 1523.2,1275.9 1513.2,1265.9" fill="#000" stroke="#000" stroke-width="2.5"/>
<polygon points="1448,1328 1458,1338 1448,1348 1438,1338" fill="#000" stroke="#000" stroke-width="2.5"/>
<polygon points="1470,1340 1480,1350 1470,1360 1460,1350" fill="#000" stroke="#000" stroke-width="2.5"/>
<polygon points="1441,1308 1451,1318 1441,1328 1431,1318" fill="#000" stroke="#000" stroke-width="2.5"/>
<polygon points="1497,1312 1507,1322 1497,1332 1487,1322" fill="#000" stroke="#000" stroke-width="2.5"/>
<polygon points="1512,1318 1522,1328 1512,1338 1502,1328" fill="#000" stroke="#000" stroke-width="2.5"/>
<rect x="1450.2" y="1305.2" width="17.7" height="17.7" fill="#fff" stroke="#000" stroke-width="2.6"/>
<rect x="1650" y="1158.3" width="17.7" height="17.7" fill="#fff" stroke="#000" stroke-width="2.6"/>
<rect x="1655.9" y="1212.4" width="17.7" height="17.7" fill="#fff" stroke="#000" stroke-width="2.6"/>
<rect x="1547.7" y="1267.9" width="17.7" height="17.7" fill="#fff" stroke="#000" stroke-width="2.6"/>
<rect x="1406.5" y="1328.8" width="17.7" height="17.7" fill="#fff" stroke="#000" stroke-width="2.6"/>
<rect x="1404.8" y="1347.7" width="17.7" height="17.7" fill="#fff" stroke="#000" stroke-width="2.6"/>
<rect x="1435.9" y="1308.8" width="17.7" height="17.7" fill="#fff" stroke="#000" stroke-width="2.6"/>
<rect x="1477.1" y="1288.8" width="17.7" height="17.7" fill="#fff" stroke="#000" stroke-width="2.6"/>
<polygon points="1554.8,1152.9 1564.6,1162.7 1554.8,1172.5 1545,1162.7" fill="#fff" stroke="#000" stroke-width="2.5"/>
<polygon points="1484,1257.2 1493.8,1267 1484,1276.8 1474.2,1267" fill="#fff" stroke="#000" stroke-width="2.5"/>
<polygon points="1444.8,1289.7 1454.6,1299.5 1444.8,1309.3 1435,1299.5" fill="#fff" stroke="#000" stroke-width="2.5"/>
<polygon points="1530,1274 1539.8,1283.8 1530,1293.6 1520.2,1283.8" fill="#fff" stroke="#000" stroke-width="2.5"/>
<polygon points="1610.6,1197.3 1620.4,1207.1 1610.6,1216.9 1600.8,1207.1" fill="#fff" stroke="#000" stroke-width="2.5"/>
<polygon points="1442.4,1238.4 1452.2,1248.2 1442.4,1258 1432.6,1248.2" fill="#fff" stroke="#000" stroke-width="2.5"/>
<polygon points="1472.9,1249 1482.7,1258.8 1472.9,1268.6 1463.1,1258.8" fill="#fff" stroke="#000" stroke-width="2.5"/>
<polygon points="1447.1,1281.4 1456.9,1291.2 1447.1,1301 1437.3,1291.2" fill="#fff" stroke="#000" stroke-width="2.5"/>
<polygon points="1468.2,1299.6 1478,1309.4 1468.2,1319.2 1458.4,1309.4" fill="#fff" stroke="#000" stroke-width="2.5"/>
<polygon points="1443.5,1292.6 1453.3,1302.4 1443.5,1312.2 1433.7,1302.4" fill="#fff" stroke="#000" stroke-width="2.5"/>
<polygon points="1427.8,1444.3 1437.6,1454.1 1427.8,1463.9 1418,1454.1" fill="#fff" stroke="#000" stroke-width="2.5"/>
<polygon points="1459.4,1257.2 1469.2,1267 1459.4,1276.8 1449.6,1267" fill="#bfbfbf" stroke="#000" stroke-width="2.5"/>
<polygon points="1483.5,1218.4 1493.3,1228.2 1483.5,1238 1473.7,1228.2" fill="#bfbfbf" stroke="#000" stroke-width="2.5"/>
<polygon points="1466.5,1262.7 1476.3,1272.5 1466.5,1282.3 1456.7,1272.5" fill="#bfbfbf" stroke="#000" stroke-width="2.5"/>
<polygon points="1487.1,1269.6 1496.9,1279.4 1487.1,1289.2 1477.3,1279.4" fill="#bfbfbf" stroke="#000" stroke-width="2.5"/>
<polygon points="1528.5,1258.4 1538.3,1268.2 1528.5,1278 1518.7,1268.2" fill="#bfbfbf" stroke="#000" stroke-width="2.5"/>
<circle cx="1579.5" cy="1220.4" r="8.4" fill="#fff" stroke="#000" stroke-width="2.6"/>
<circle cx="1565.9" cy="1216.5" r="8.4" fill="#fff" stroke="#000" stroke-width="2.6"/>
<circle cx="1577.6" cy="1235.3" r="8.4" fill="#fff" stroke="#000" stroke-width="2.6"/>
<circle cx="1651.8" cy="1218.8" r="8.4" fill="#fff" stroke="#000" stroke-width="2.6"/>
<text x="1357.5" y="989.2" font-size="52" text-anchor="middle">г</text>
<text x="966.5" y="1227.8" font-size="43" text-anchor="end">5</text>
<text x="966.5" y="1428" font-size="43" text-anchor="end">0</text>
<text x="966.5" y="1628.2" font-size="43" text-anchor="end">-5</text>
<text x="966.5" y="1828.5" font-size="43" text-anchor="end">-10</text>
<text x="996" y="1876.5" font-size="43" text-anchor="middle">-10</text>
<text x="1183" y="1876.5" font-size="43" text-anchor="middle">-5</text>
<text x="1370.4" y="1876.5" font-size="43" text-anchor="middle">0</text>
<text x="1558.4" y="1876.5" font-size="43" text-anchor="middle">5</text>
<text x="1706.5" y="1877.6" font-size="45" text-anchor="start">F1</text>
<text transform="translate(954.5 1039.5) rotate(-90)" font-size="46" text-anchor="start">F2</text>
<text x="1294.5" y="1086" font-size="34.6" text-anchor="start">Богатый</text>
<text x="1294.5" y="1126.3" font-size="34.6" text-anchor="start">кварцем</text>
<text x="1294.5" y="1166.7" font-size="34.6" text-anchor="start">осадочный</text>
<text x="1294.5" y="1207" font-size="34.6" text-anchor="start">источник</text>
<text x="1038" y="1355.1" font-size="34.7" text-anchor="start">Основные</text>
<text x="1038" y="1395.9" font-size="34.7" text-anchor="start">изверженные</text>
<text x="1038" y="1436.7" font-size="34.7" text-anchor="start">породы</text>
<text x="1646.2" y="1593.5" font-size="34.6" text-anchor="end">Кислые</text>
<text x="1646.2" y="1634.2" font-size="34.6" text-anchor="end">изверженные</text>
<text x="1646.2" y="1674.9" font-size="34.6" text-anchor="end">породы</text>
</g>
</svg>
</body></html>
